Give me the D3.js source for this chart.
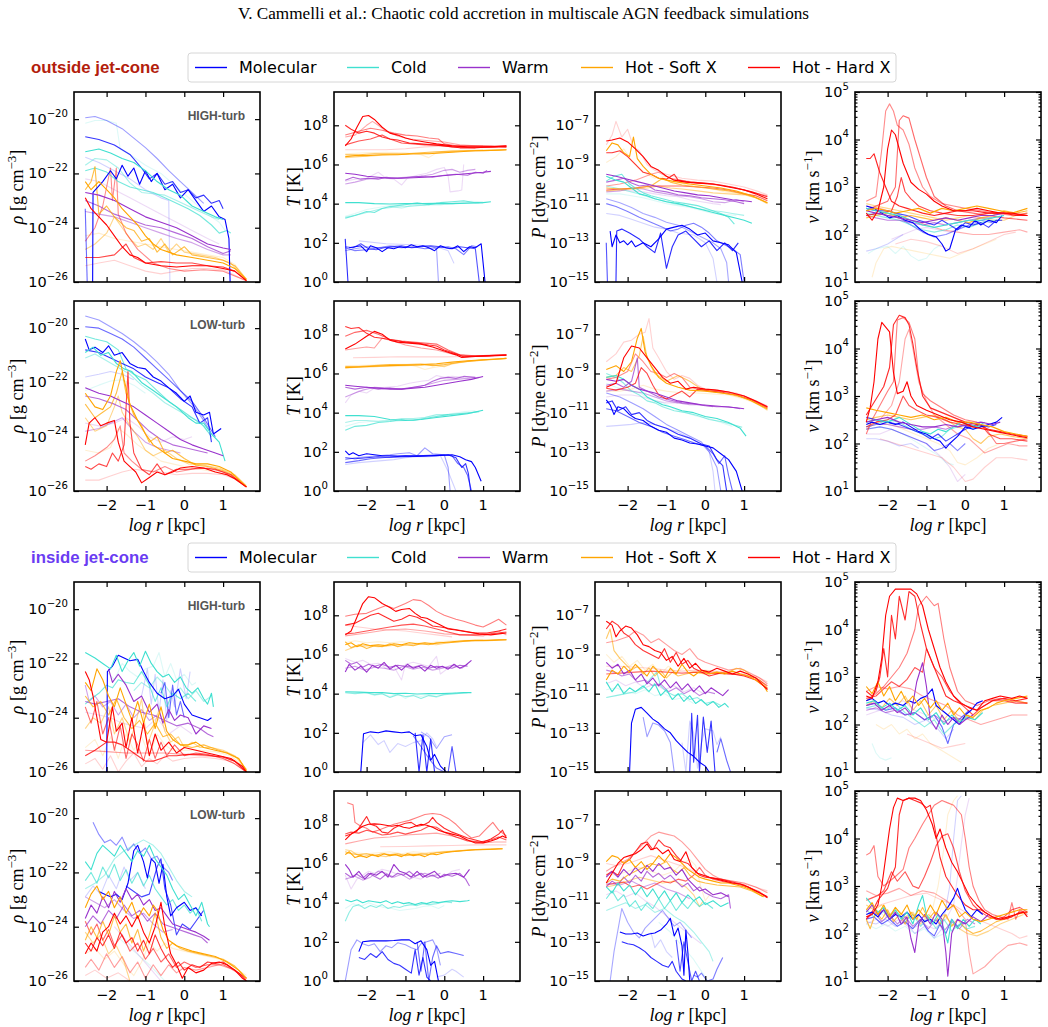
<!DOCTYPE html>
<html>
<head>
<meta charset="utf-8">
<script src="https://cdn.jsdelivr.net/npm/d3@7"></script>
<style>
  body { margin: 0; background: #fff; }
  svg { display: block; }
</style>
</head>
<body>
<div id="chart"></div>
<script>
// gas phases, legend order
const phaseKeys = ["mol", "cold", "warm", "soft", "hard"];
const phaseNames = ["Molecular", "Cold", "Warm", "Hot - Soft X", "Hot - Hard X"];
const turbLabels = ["HIGH-turb", "LOW-turb", "HIGH-turb", "LOW-turb"];
const regionLabels = ["outside jet-cone", "inside jet-cone"];
const xTicks = [-2, -1, 0, 1];

// profiles: each line is [log r, log value, log r, log value, ...], oldest snapshot first

const rhoOutHigh = {
  mol: [
    [-2.55,-21.4,-2.2,-21.6,-1.8,-21.9,-1.4,-22.2,-1.0,-22.6,-0.6,-22.9,-0.4,-23.0,-0.37,-26],
    [-2.55,-19.95,-2.3,-19.9,-2.0,-20.05,-1.6,-20.35,-1.3,-20.7,-1.0,-21.05,-0.7,-21.45,-0.4,-21.9,-0.1,-22.3,0.2,-22.7,0.5,-23.1],
    [-2.55,-23.3,-2.5,-26],
    [-2.55,-20.65,-2.2,-20.75,-1.8,-20.95,-1.4,-21.3,-1.1,-21.8,-0.9,-22.2,-0.7,-22.0,-0.5,-22.4,-0.3,-22.3,-0.1,-22.7,0.1,-22.6,0.3,-22.9,0.5,-22.8,0.7,-23.1,0.9,-23.0,1.0,-23.3],
    [-2.36,-26,-2.35,-22.7,-2.1,-22.3,-1.9,-21.9,-1.75,-22.2,-1.6,-21.7,-1.45,-22.1,-1.3,-21.8,-1.15,-22.4,-1.0,-21.9,-0.85,-22.3,-0.7,-22.0,-0.5,-22.6,-0.3,-22.4,-0.1,-22.9,0.1,-22.6,0.3,-23.0,0.5,-23.4,0.7,-23.2,0.9,-23.6,1.05,-23.7,1.15,-24.4,1.18,-26]
  ],
  cold: [
    [-2.55,-20.15,-2.3,-20.05,-2.0,-20.05,-1.75,-20.15,-1.65,-21.1,-1.4,-21.3,-1.0,-21.7,-0.6,-22.0,-0.2,-22.5,0.2,-23.0,0.6,-23.5,0.9,-23.8,1.05,-24.1],
    [-2.55,-21.7,-2.3,-21.45,-2.0,-21.5,-1.7,-21.8,-1.4,-22.35,-1.1,-22.7,-0.8,-22.75,-0.5,-22.8,-0.2,-23.0,0.1,-23.2,0.4,-23.4,0.7,-23.6,0.9,-23.7],
    [-2.55,-21.9,-2.3,-21.8,-2.0,-21.95,-1.7,-22.3,-1.4,-22.5,-1.1,-22.6,-0.8,-22.7,-0.5,-22.9,-0.2,-23.1,0.1,-23.3,0.4,-23.55,0.7,-23.9,0.9,-24.2,1.1,-24.1,1.2,-24.2],
    [-2.55,-21.2,-2.2,-21.1,-1.9,-21.25,-1.6,-21.45,-1.3,-21.6,-1.0,-21.9,-0.7,-22.3,-0.4,-22.6,-0.1,-22.8,0.2,-23.2,0.5,-23.4,0.8,-23.6,1.0,-23.7]
  ],
  warm: [
    [-2.55,-22.2,-2.2,-22.3,-1.8,-22.6,-1.4,-22.9,-1.0,-23.2,-0.6,-23.5,-0.2,-23.8,0.2,-24.1,0.6,-24.4,0.9,-24.6],
    [-2.55,-23.4,-2.2,-23.5,-1.8,-23.6,-1.4,-23.8,-1.0,-24.0,-0.6,-24.2,-0.2,-24.4,0.2,-24.55,0.6,-24.8,1.0,-25.0,1.2,-25.0],
    [-2.55,-23.0,-2.2,-23.2,-1.8,-23.5,-1.4,-23.7,-1.0,-23.9,-0.6,-24.0,-0.2,-24.2,0.2,-24.4,0.6,-24.7,1.0,-24.95,1.2,-24.85],
    [-2.55,-22.7,-2.2,-22.8,-1.8,-23.0,-1.4,-23.3,-1.0,-23.6,-0.6,-23.8,-0.2,-24.0,0.2,-24.3,0.6,-24.6,1.0,-24.75,1.2,-24.8]
  ],
  soft: [
    [-2.55,-24.3,-2.2,-24.2,-1.8,-24.4,-1.4,-24.5,-1.0,-24.6,-0.6,-24.7,-0.2,-24.8,0.2,-24.9,0.6,-25.0,1.0,-25.1,1.3,-25.35,1.6,-25.9],
    [-2.55,-24.8,-2.3,-24.6,-2.0,-24.2,-1.8,-23.6,-1.6,-24.0,-1.4,-24.4,-1.2,-24.7,-1.0,-24.6,-0.8,-24.8,-0.6,-24.4,-0.4,-24.9,-0.2,-24.6,0.0,-24.9,0.4,-25.0,0.8,-25.1,1.2,-25.3,1.6,-25.95],
    [-2.55,-22.6,-2.4,-22.3,-2.3,-21.75,-2.2,-23.5,-2.0,-23.2,-1.8,-23.6,-1.5,-24.0,-1.3,-24.1,-1.1,-24.5,-0.9,-24.4,-0.7,-24.9,-0.5,-24.6,-0.3,-25.0,0.0,-24.7,0.2,-25.0,0.6,-25.1,1.0,-25.2,1.3,-25.4,1.6,-25.9],
    [-2.55,-22.3,-2.4,-22.6,-2.2,-22.3,-2.0,-22.6,-1.8,-22.9,-1.6,-23.3,-1.4,-23.6,-1.2,-23.9,-1.0,-24.3,-0.8,-24.6,-0.6,-24.8,-0.4,-24.9,-0.2,-25.0,0.2,-25.1,0.6,-25.2,1.0,-25.3,1.3,-25.5,1.6,-25.9]
  ],
  hard: [
    [-2.55,-25.4,-2.2,-25.3,-1.8,-25.2,-1.4,-25.4,-1.0,-25.6,-0.6,-25.7,-0.2,-25.6,0.2,-25.5,0.6,-25.5,1.0,-25.55,1.6,-25.95],
    [-2.55,-24.5,-2.3,-24.0,-2.1,-23.2,-1.9,-21.8,-1.85,-23.0,-1.75,-21.8,-1.7,-23.5,-1.5,-24.2,-1.2,-24.8,-0.8,-25.3,-0.4,-25.5,0.0,-25.6,0.5,-25.55,1.0,-25.6,1.6,-25.95],
    [-2.55,-25.1,-2.2,-25.1,-1.8,-25.0,-1.5,-24.6,-1.3,-25.1,-1.0,-25.3,-0.6,-25.25,-0.2,-25.3,0.2,-25.3,0.6,-25.4,1.0,-25.45,1.3,-25.6,1.6,-25.95],
    [-2.55,-22.9,-2.4,-23.3,-2.2,-23.6,-2.0,-23.9,-1.8,-24.3,-1.6,-24.7,-1.4,-25.0,-1.2,-25.1,-1.0,-25.3,-0.6,-25.4,-0.2,-25.45,0.2,-25.4,0.6,-25.4,1.0,-25.5,1.3,-25.6,1.6,-25.95]
  ]
};

const tOutHigh = {
  mol: [
    [-2.2,2.1,-1.5,1.95,-0.8,1.9,-0.2,1.8,0.1,1.6,0.25,0.95],
    [-2.55,1.6,-2.3,1.7,-2.0,1.8,-1.7,1.75,-1.4,1.85,-1.1,1.8,-0.8,1.75,-0.5,1.85,-0.3,1.8,-0.2,1.7,-0.15,0.0],
    [-2.55,1.75,-2.3,1.6,-2.0,1.65,-1.7,1.75,-1.4,1.8,-1.1,1.75,-0.8,1.8,-0.5,1.7,-0.2,1.75,0.1,1.8,0.3,1.7,0.5,1.4,0.7,1.85,0.85,1.8],
    [-2.55,1.8,-2.35,1.75,-2.15,1.95,-1.95,1.7,-1.75,1.65,-1.55,1.75,-1.35,1.8,-1.1,1.85,-0.85,1.75,-0.6,1.8,-0.35,1.85,-0.1,1.8,0.15,1.7,0.4,1.8,0.6,1.75,0.8,1.7,0.9,0.0],
    [-2.55,2.2,-2.48,0.0],
    [-2.45,1.75,-2.3,1.8,-2.15,1.85,-2.0,1.55,-1.9,1.85,-1.75,1.75,-1.6,1.55,-1.45,1.75,-1.3,1.7,-1.15,1.8,-1.0,1.75,-0.85,1.9,-0.7,1.8,-0.55,1.85,-0.4,1.75,-0.25,1.6,-0.1,1.85,0.05,1.75,0.2,1.7,0.35,1.85,0.5,1.55,0.65,1.8,0.8,1.75,0.95,1.95,1.05,0.0]
  ],
  cold: [
    [-2.55,3.35,-2.3,3.5,-2.0,3.7,-1.7,3.8,-1.4,3.9,-1.1,3.75,-0.8,3.95,-0.5,3.9,-0.2,4.05,0.1,4.0,0.4,4.1,0.7,4.12,1.0,4.1],
    [-2.55,3.3,-2.2,3.45,-1.9,3.6,-1.6,3.75,-1.3,3.82,-1.0,3.85,-0.7,3.9,-0.4,3.95,-0.1,3.95,0.2,4.0,0.6,4.05,0.9,4.05],
    [-2.55,3.25,-2.3,3.4,-2.0,3.6,-1.8,3.55,-1.6,3.75,-1.4,3.85,-1.2,3.9,-1.0,3.95,-0.7,4.05,-0.4,3.95,-0.1,4.05,0.2,4.1,0.5,4.15,0.8,4.05,1.0,4.05],
    [-2.55,4.05,-2.2,4.05,-1.8,4.0,-1.4,3.98,-1.0,4.0,-0.6,4.0,-0.2,4.02,0.2,4.0,0.6,4.02,1.0,4.05,1.2,4.1]
  ],
  warm: [
    [-2.55,5.15,-2.3,5.25,-2.0,5.3,-1.7,5.6,-1.5,5.3,-1.3,5.25,-1.1,4.95,-0.95,5.3,-0.7,5.45,-0.45,5.55,-0.2,5.75,0.0,5.85,0.1,5.4,0.15,4.6,0.35,4.65,0.45,4.7,0.5,6.0],
    [-2.55,5.0,-2.3,5.1,-2.0,5.25,-1.7,5.3,-1.4,5.3,-1.0,5.35,-0.6,5.4,-0.3,5.5,0.0,5.7,0.2,5.75,0.4,5.6,0.6,5.7,0.8,5.75],
    [-2.55,5.2,-2.35,5.35,-2.15,5.25,-1.95,5.3,-1.7,5.25,-1.5,5.35,-1.2,5.3,-0.9,5.35,-0.6,5.4,-0.3,5.35,0.0,5.45,0.3,5.5,0.6,5.45,0.8,5.6,1.0,5.55,1.1,5.7],
    [-2.55,5.55,-2.3,5.5,-2.0,5.4,-1.7,5.35,-1.4,5.3,-1.1,5.3,-0.8,5.32,-0.5,5.35,-0.2,5.4,0.1,5.45,0.4,5.5,0.7,5.55,1.0,5.6,1.2,5.65]
  ],
  soft: [
    [-2.55,6.55,-2.0,6.6,-1.5,6.62,-1.0,6.6,-0.6,6.5,-0.4,6.35,-0.2,6.6,0.2,6.7,0.6,6.72,1.0,6.75],
    [-2.55,6.35,-2.2,6.4,-1.8,6.45,-1.4,6.5,-1.0,6.52,-0.6,6.55,-0.2,6.6,0.2,6.65,0.6,6.7,1.0,6.72,1.6,6.75],
    [-2.55,6.5,-2.2,6.5,-1.8,6.55,-1.4,6.55,-1.0,6.55,-0.6,6.6,-0.2,6.65,0.2,6.68,0.6,6.7,1.0,6.7,1.4,6.73,1.6,6.75],
    [-2.55,6.4,-2.3,6.45,-2.0,6.45,-1.6,6.5,-1.2,6.5,-0.8,6.55,-0.4,6.55,0.0,6.6,0.4,6.65,0.8,6.7,1.2,6.72,1.6,6.75]
  ],
  hard: [
    [-2.55,6.75,-2.0,6.75,-1.5,6.75,-1.0,6.8,-0.5,6.9,0.0,6.95,0.5,6.95,1.0,6.95],
    [-2.55,7.4,-2.3,7.5,-2.0,8.0,-1.85,8.2,-1.7,8.0,-1.5,7.7,-1.2,7.45,-0.9,7.3,-0.6,7.25,-0.3,7.2,0.0,7.15,0.4,7.0,0.8,6.95,1.3,6.9,1.6,6.95],
    [-2.55,7.5,-2.2,7.7,-1.9,7.85,-1.6,7.75,-1.3,7.6,-1.0,7.5,-0.7,7.45,-0.4,7.35,-0.15,7.3,0.0,7.05,0.3,6.95,0.8,6.95,1.2,6.95,1.6,6.9],
    [-2.55,7.0,-2.2,7.2,-1.9,7.3,-1.6,7.5,-1.4,7.3,-1.1,7.1,-0.8,7.05,-0.5,7.0,-0.2,7.0,0.2,6.9,0.8,6.85,1.2,6.9,1.6,6.95],
    [-2.55,8.0,-2.4,7.8,-2.2,7.6,-2.0,7.7,-1.8,7.6,-1.6,7.4,-1.4,7.3,-1.2,7.25,-0.9,7.1,-0.6,7.05,-0.3,7.0,0.0,6.95,0.4,6.85,0.8,6.85,1.2,6.9,1.6,6.95],
    [-2.55,6.95,-2.4,7.3,-2.25,7.9,-2.1,8.45,-1.95,8.5,-1.8,8.3,-1.6,7.9,-1.4,7.6,-1.2,7.5,-1.0,7.35,-0.8,7.25,-0.5,7.15,-0.2,7.05,0.2,6.95,0.6,6.9,1.0,6.9,1.3,6.9,1.6,6.9]
  ]
};

const pOutHigh = {
  mol: [
    [-2.55,-11.5,-2.2,-11.6,-1.9,-11.8,-1.6,-12.0,-1.3,-12.2,-1.0,-12.3,-0.7,-12.5,-0.3,-12.6,0.0,-13.0,0.2,-13.8,0.3,-15.0],
    [-2.55,-10.75,-2.2,-10.95,-1.9,-11.2,-1.6,-11.5,-1.3,-11.7,-1.0,-11.95,-0.7,-12.1,-0.4,-12.4,-0.1,-12.7,0.2,-13.0,0.4,-13.3,0.55,-14.0,0.6,-15.0],
    [-2.55,-11.0,-2.3,-11.15,-2.0,-11.4,-1.7,-11.7,-1.4,-11.95,-1.1,-12.2,-0.9,-12.4,-0.7,-12.3,-0.5,-12.1,-0.3,-12.0,-0.1,-12.2,0.1,-12.5,0.3,-12.9,0.5,-13.1,0.7,-13.3,0.9,-13.6,1.0,-15.0],
    [-2.55,-13.0,-2.52,-15.0],
    [-2.3,-15.0,-2.28,-12.4,-2.15,-12.3,-1.95,-12.5,-1.7,-12.8,-1.5,-13.2,-1.3,-13.5,-1.15,-12.5,-1.0,-14.3,-0.85,-13.2,-0.7,-12.6,-0.5,-12.4,-0.3,-12.8,-0.1,-13.2,0.1,-12.9,0.3,-13.4,0.5,-13.0,0.7,-13.4,0.85,-13.0],
    [-2.45,-12.4,-2.4,-13.2,-2.3,-12.6,-2.2,-13.0,-2.1,-12.9,-2.0,-13.1,-1.9,-12.9,-1.8,-13.2,-1.6,-13.0,-1.4,-13.2,-1.2,-12.8,-1.0,-12.3,-0.8,-12.2,-0.6,-12.1,-0.4,-12.3,-0.2,-12.6,0.0,-12.5,0.2,-12.9,0.4,-13.0,0.6,-13.1,0.8,-13.5,0.95,-15.0]
  ],
  cold: [
    [-2.55,-10.5,-2.2,-10.5,-1.9,-10.6,-1.6,-10.7,-1.3,-10.85,-1.0,-11.0,-0.7,-11.1,-0.4,-11.2,-0.1,-11.35,0.2,-11.5,0.5,-11.55,0.8,-11.6],
    [-2.55,-10.1,-2.3,-10.2,-2.0,-10.35,-1.7,-10.5,-1.4,-10.7,-1.1,-10.85,-0.8,-11.0,-0.5,-11.1,-0.2,-11.25,0.1,-11.35,0.4,-11.4,0.7,-11.5,1.0,-11.6],
    [-2.55,-9.85,-2.35,-9.6,-2.15,-9.5,-1.95,-10.0,-1.8,-10.2,-1.6,-10.45,-1.4,-10.6,-1.1,-10.75,-0.8,-10.9,-0.5,-11.0,-0.2,-11.1,0.1,-11.3,0.4,-11.5,0.6,-11.7,0.75,-12.05],
    [-2.55,-9.6,-2.3,-9.8,-2.1,-9.9,-1.9,-10.2,-1.7,-10.5,-1.5,-10.6,-1.3,-10.75,-1.0,-10.9,-0.7,-11.0,-0.4,-11.15,-0.1,-11.3,0.2,-11.45,0.5,-11.6,0.8,-11.75,1.0,-11.85,1.2,-12.0]
  ],
  warm: [
    [-2.55,-10.2,-2.2,-10.3,-1.9,-10.35,-1.6,-10.4,-1.3,-10.5,-1.0,-10.6,-0.7,-10.65,-0.4,-10.8,-0.1,-10.9,0.2,-11.0,0.4,-11.05],
    [-2.55,-10.4,-2.2,-10.35,-1.9,-10.2,-1.6,-10.25,-1.3,-10.4,-1.0,-10.5,-0.7,-10.6,-0.4,-10.65,-0.1,-10.75,0.2,-10.9,0.5,-10.95,0.8,-10.8,1.0,-10.9],
    [-2.55,-9.9,-2.3,-9.8,-2.1,-9.7,-1.9,-9.95,-1.7,-10.1,-1.5,-10.05,-1.3,-10.3,-1.0,-10.4,-0.7,-10.55,-0.4,-10.6,-0.1,-10.7,0.2,-10.75,0.5,-10.8,0.8,-10.9,1.0,-11.0],
    [-2.55,-9.5,-2.3,-9.6,-2.0,-9.75,-1.7,-9.9,-1.4,-10.05,-1.1,-10.2,-0.8,-10.35,-0.5,-10.45,-0.2,-10.55,0.1,-10.6,0.4,-10.7,0.7,-10.8,1.0,-10.85,1.2,-10.9]
  ],
  soft: [
    [-2.55,-8.9,-2.3,-8.6,-2.1,-8.2,-1.9,-8.8,-1.7,-9.2,-1.5,-9.5,-1.3,-9.7,-1.0,-9.6,-0.7,-9.9,-0.3,-10.1,0.1,-10.2,0.5,-10.4,0.9,-10.5,1.3,-10.6,1.6,-10.8],
    [-2.55,-10.35,-2.2,-10.3,-1.8,-10.25,-1.5,-10.2,-1.2,-10.1,-0.9,-10.2,-0.6,-10.25,-0.2,-10.35,0.2,-10.45,0.6,-10.5,1.0,-10.55,1.3,-10.7,1.6,-11.0],
    [-2.55,-10.2,-2.2,-10.25,-1.8,-10.2,-1.4,-10.1,-1.1,-9.7,-0.9,-9.9,-0.6,-10.05,-0.2,-10.15,0.2,-10.25,0.6,-10.35,1.0,-10.5,1.3,-10.7,1.6,-10.95],
    [-2.55,-8.3,-2.4,-7.9,-2.25,-8.0,-2.1,-8.4,-1.95,-8.6,-1.85,-7.6,-1.75,-8.7,-1.6,-9.1,-1.4,-9.5,-1.2,-9.7,-1.0,-9.8,-0.7,-9.9,-0.4,-10.0,0.0,-10.1,0.4,-10.2,0.8,-10.35,1.2,-10.6,1.6,-10.95]
  ],
  hard: [
    [-2.55,-8.0,-2.4,-7.5,-2.3,-6.8,-2.15,-7.6,-2.0,-7.2,-1.85,-8.1,-1.7,-8.3,-1.5,-9.0,-1.3,-9.3,-1.0,-9.5,-0.6,-9.7,-0.2,-9.8,0.2,-9.85,0.6,-10.0,1.0,-10.15,1.4,-10.4,1.6,-10.55],
    [-2.55,-10.1,-2.2,-10.0,-1.8,-9.8,-1.4,-9.5,-1.2,-9.4,-0.9,-9.7,-0.5,-9.85,-0.1,-9.95,0.3,-10.05,0.7,-10.15,1.1,-10.35,1.6,-10.6],
    [-2.55,-10.3,-2.2,-10.25,-1.8,-10.2,-1.4,-10.1,-1.0,-10.1,-0.6,-10.1,-0.2,-10.15,0.2,-10.2,0.6,-10.3,1.0,-10.5,1.3,-10.6,1.6,-10.85],
    [-2.55,-8.4,-2.4,-8.4,-2.2,-8.3,-2.0,-8.6,-1.8,-9.0,-1.6,-9.4,-1.4,-9.5,-1.2,-9.7,-1.0,-9.75,-0.8,-9.5,-0.7,-9.8,-0.4,-9.9,0.0,-9.95,0.4,-10.05,0.8,-10.2,1.2,-10.4,1.6,-10.65],
    [-2.55,-7.8,-2.4,-7.75,-2.2,-7.65,-2.0,-7.85,-1.8,-8.2,-1.6,-8.6,-1.4,-9.1,-1.2,-9.3,-1.0,-9.6,-0.8,-9.8,-0.5,-9.9,-0.2,-9.95,0.2,-10.0,0.6,-10.15,1.0,-10.3,1.3,-10.5,1.6,-10.75]
  ]
};

const vOutHigh = {
  mol: [
    [-2.55,1.65,-2.3,1.7,-2.0,1.8,-1.8,1.9,-1.6,2.0],
    [-2.55,2.4,-2.3,2.45,-2.0,2.4,-1.7,2.35,-1.4,2.2,-1.1,2.05,-0.8,1.95,-0.5,2.0,-0.2,2.1,0.1,2.2,0.4,2.3,0.7,2.25],
    [-2.55,2.55,-2.3,2.5,-2.0,2.5,-1.8,2.45,-1.5,2.4,-1.2,2.3,-1.0,2.25,-0.8,2.2,-0.6,2.3,-0.4,2.2,-0.2,2.1,0.0,2.25,0.2,2.2,0.4,2.25,0.6,2.15,0.8,2.3,0.95,2.3],
    [-2.55,2.6,-2.35,2.55,-2.15,2.45,-1.95,2.35,-1.75,2.4,-1.55,2.3,-1.35,2.25,-1.15,2.1,-0.95,2.0,-0.75,1.95,-0.6,1.8,-0.5,1.65,-0.4,1.7,-0.25,2.1,-0.1,2.2,0.1,2.15,0.25,2.3,0.4,2.2,0.6,2.3,0.8,2.25,0.95,2.4]
  ],
  cold: [
    [-2.5,1.6,-2.3,1.7,-2.0,1.75,-1.8,1.6,-1.6,1.75,-1.4,1.55,-1.2,1.45,-1.0,1.5,-0.8,1.7,-0.6,1.8],
    [-2.55,2.45,-2.3,2.4,-2.0,2.35,-1.7,2.3,-1.4,2.2,-1.1,2.1,-0.8,2.05,-0.5,2.1,-0.2,2.2,0.1,2.15,0.4,2.25,0.7,2.3,0.9,2.3],
    [-2.55,2.55,-2.3,2.5,-2.0,2.45,-1.7,2.4,-1.4,2.3,-1.1,2.2,-0.8,2.15,-0.5,2.2,-0.2,2.25,0.1,2.3,0.4,2.3,0.7,2.35,1.0,2.4]
  ],
  warm: [
    [-1.9,1.9,-1.6,2.0,-1.3,2.1,-1.0,2.15,-0.7,2.1,-0.4,2.05,-0.1,2.15,0.2,2.2,0.5,2.25],
    [-2.55,2.4,-2.3,2.35,-2.0,2.3,-1.7,2.3,-1.4,2.25,-1.1,2.2,-0.8,2.25,-0.5,2.2,-0.2,2.25,0.1,2.3,0.4,2.35,0.7,2.35],
    [-2.55,2.5,-2.3,2.45,-2.0,2.4,-1.7,2.35,-1.4,2.3,-1.1,2.25,-0.8,2.3,-0.5,2.35,-0.2,2.3,0.1,2.35,0.4,2.4,0.7,2.4,1.0,2.45]
  ],
  soft: [
    [-2.4,1.1,-2.3,1.4,-2.1,1.7,-1.9,1.75,-1.6,1.7,-1.3,1.65,-1.0,1.6,-0.7,1.55,-0.4,1.5,-0.1,1.6,0.2,1.7,0.5,1.8,0.8,1.9],
    [-2.55,2.65,-2.3,2.6,-2.0,2.55,-1.7,2.5,-1.4,2.45,-1.1,2.4,-0.8,2.35,-0.5,2.3,-0.2,2.35,0.1,2.4,0.4,2.35,0.7,2.3,1.0,2.3,1.3,2.4,1.6,2.45],
    [-2.55,2.35,-2.3,2.4,-2.0,2.45,-1.7,2.35,-1.4,2.4,-1.1,2.35,-0.8,2.3,-0.5,2.35,-0.2,2.3,0.1,2.25,0.4,2.35,0.7,2.4,1.0,2.5,1.3,2.45,1.6,2.5],
    [-2.55,2.5,-2.3,2.55,-2.0,2.5,-1.8,2.45,-1.5,2.5,-1.2,2.55,-0.9,2.45,-0.6,2.55,-0.3,2.5,0.0,2.55,0.3,2.6,0.6,2.55,0.9,2.5,1.2,2.45,1.6,2.55]
  ],
  hard: [
    [-1.8,1.8,-1.4,1.9,-1.0,1.85,-0.6,1.75,-0.2,1.6,0.2,1.7,0.6,1.85,1.0,2.0,1.3,2.05],
    [-2.55,2.6,-2.2,2.55,-1.8,2.45,-1.4,2.3,-1.0,2.2,-0.6,2.1,-0.2,2.05,0.2,2.0,0.6,2.0,1.0,2.05,1.4,2.1,1.6,2.05],
    [-2.55,2.7,-2.3,2.8,-2.15,3.8,-2.05,4.6,-1.95,4.75,-1.85,4.6,-1.75,4.3,-1.6,4.2,-1.45,3.9,-1.3,3.4,-1.1,3.0,-0.9,2.8,-0.6,2.65,-0.3,2.6,0.0,2.55,0.4,2.5,0.8,2.45,1.2,2.4,1.6,2.45],
    [-2.55,2.5,-2.3,2.6,-2.0,2.7,-1.8,3.0,-1.7,4.4,-1.6,4.5,-1.45,4.45,-1.3,4.0,-1.15,3.6,-1.0,3.2,-0.8,2.8,-0.5,2.6,-0.2,2.5,0.2,2.45,0.6,2.4,1.0,2.35,1.6,2.3],
    [-2.55,2.4,-2.2,2.45,-1.9,2.5,-1.75,2.8,-1.65,3.2,-1.55,2.9,-1.4,2.75,-1.2,2.6,-0.9,2.5,-0.6,2.45,-0.2,2.4,0.2,2.4,0.6,2.45,1.0,2.45,1.6,2.4],
    [-2.55,3.6,-2.45,3.6,-2.35,3.7,-2.2,3.3,-2.05,3.0,-1.9,2.7,-1.7,2.6,-1.5,2.55,-1.3,2.5,-1.1,2.45,-0.8,2.4,-0.5,2.45,-0.2,2.5,0.2,2.5,0.6,2.45,1.0,2.45,1.3,2.4,1.6,2.4],
    [-2.55,2.45,-2.4,2.3,-2.25,2.5,-2.1,3.0,-2.0,3.8,-1.9,4.2,-1.8,4.1,-1.6,3.5,-1.4,3.1,-1.2,2.95,-1.0,2.85,-0.8,2.7,-0.6,2.6,-0.3,2.5,0.0,2.5,0.3,2.55,0.6,2.5,0.9,2.45,1.2,2.45,1.6,2.4]
  ]
};

const rhoOutLow = {
  mol: [
    [-2.55,-21.8,-2.2,-21.7,-1.9,-21.6,-1.6,-21.7,-1.3,-21.9],
    [-2.55,-19.55,-2.2,-19.7,-1.9,-19.95,-1.6,-20.2,-1.3,-20.5,-1.0,-20.85,-0.7,-21.25,-0.4,-21.7,-0.1,-22.3,0.2,-22.8,0.5,-23.4,0.7,-23.9],
    [-2.55,-19.95,-2.2,-20.0,-1.9,-20.2,-1.6,-20.4,-1.3,-20.7,-1.0,-21.1,-0.7,-21.5,-0.4,-21.9,-0.1,-22.3,0.2,-22.7,0.5,-23.3,0.8,-24.0],
    [-2.55,-20.8,-2.2,-20.9,-1.9,-21.1,-1.6,-21.3,-1.3,-21.5,-1.0,-21.8,-0.7,-22.0,-0.4,-22.2,-0.1,-22.6,0.2,-22.9,0.4,-23.5,0.6,-23.3,0.7,-24.2],
    [-2.55,-20.4,-2.45,-20.8,-2.3,-20.7,-2.1,-20.9,-1.95,-20.65,-1.8,-21.0,-1.6,-20.9,-1.4,-21.3,-1.2,-21.45,-1.0,-21.5,-0.8,-21.8,-0.6,-21.95,-0.4,-22.2,-0.2,-22.4,0.0,-22.7,0.15,-22.5,0.3,-23.1,0.5,-23.2,0.65,-23.1,0.75,-23.9,0.95,-23.7]
  ],
  cold: [
    [-2.55,-22.3,-2.2,-22.1,-1.9,-21.95,-1.6,-21.9,-1.3,-22.1,-1.0,-22.4],
    [-2.55,-21.1,-2.3,-20.95,-2.0,-21.2,-1.7,-21.45,-1.4,-21.7,-1.1,-22.1,-0.8,-22.4,-0.5,-22.75,-0.2,-23.0,0.1,-23.25,0.4,-23.45,0.6,-23.8],
    [-2.55,-20.3,-2.3,-20.4,-2.0,-20.5,-1.7,-20.8,-1.5,-21.5,-1.3,-21.7,-1.0,-21.9,-0.7,-22.3,-0.4,-22.7,-0.1,-23.0,0.2,-23.3,0.5,-23.6,0.7,-24.0],
    [-2.55,-20.9,-2.35,-20.7,-2.15,-21.0,-1.95,-20.9,-1.75,-21.3,-1.55,-21.5,-1.35,-21.6,-1.1,-22.0,-0.8,-22.3,-0.5,-22.6,-0.2,-22.9,0.1,-23.3,0.3,-23.5,0.5,-23.5,0.7,-23.9,0.9,-24.2,1.05,-24.9]
  ],
  warm: [
    [-2.55,-23.5,-2.2,-23.6,-1.8,-23.5,-1.5,-23.3,-1.2,-23.6,-0.9,-24.0,-0.6,-24.2,-0.3,-24.0,0.0,-24.1,0.2,-24.0],
    [-2.55,-23.8,-2.2,-23.7,-1.9,-23.5,-1.6,-23.3,-1.3,-23.8,-1.0,-24.2,-0.7,-24.4,-0.4,-24.5,-0.1,-24.6],
    [-2.55,-22.5,-2.2,-22.6,-1.8,-22.8,-1.5,-23.0,-1.2,-23.4,-0.9,-23.8,-0.6,-24.1,-0.3,-24.3,0.0,-24.4,0.3,-24.5,0.6,-24.6],
    [-2.55,-22.2,-2.2,-22.4,-1.9,-22.5,-1.6,-22.7,-1.3,-22.9,-1.0,-23.2,-0.7,-23.5,-0.4,-23.8,-0.1,-24.1,0.2,-24.3,0.5,-24.45,0.8,-24.6,1.0,-24.7]
  ],
  soft: [
    [-2.55,-24.5,-2.2,-24.6,-1.9,-24.4,-1.7,-23.7,-1.5,-23.9,-1.2,-24.3,-0.9,-24.6,-0.6,-24.9,-0.3,-25.0,0.0,-25.1,0.4,-25.2,0.8,-25.3,1.2,-25.45,1.6,-25.85],
    [-2.55,-23.3,-2.3,-23.8,-2.0,-23.6,-1.8,-22.9,-1.7,-22.5,-1.6,-23.1,-1.4,-23.6,-1.2,-24.0,-1.0,-24.5,-0.8,-24.7,-0.5,-24.5,-0.2,-24.8,0.1,-25.0,0.5,-25.05,0.9,-25.15,1.3,-25.4,1.6,-25.8],
    [-2.55,-22.8,-2.3,-23.3,-2.1,-23.1,-1.9,-22.9,-1.75,-22.4,-1.6,-21.6,-1.5,-22.4,-1.3,-23.2,-1.1,-23.6,-0.9,-24.2,-0.7,-24.0,-0.5,-24.6,-0.3,-24.5,0.0,-24.8,0.3,-25.05,0.6,-25.1,1.0,-25.25,1.3,-25.45,1.6,-25.85],
    [-2.55,-22.4,-2.3,-22.9,-2.1,-23.0,-1.9,-22.5,-1.75,-21.6,-1.65,-21.2,-1.55,-21.9,-1.4,-22.8,-1.2,-23.4,-1.0,-23.9,-0.8,-24.3,-0.6,-24.5,-0.3,-24.8,0.0,-24.9,0.3,-25.0,0.6,-25.0,0.9,-25.1,1.2,-25.3,1.6,-25.85]
  ],
  hard: [
    [-2.55,-25.6,-2.2,-25.6,-1.9,-25.45,-1.6,-25.3,-1.3,-25.2,-1.0,-25.25,-0.6,-25.3,-0.2,-25.4,0.2,-25.35,0.6,-25.35,1.0,-25.4,1.3,-25.55,1.6,-25.85],
    [-2.55,-24.9,-2.3,-24.7,-2.0,-24.4,-1.8,-24.1,-1.65,-23.6,-1.55,-24.6,-1.35,-24.9,-1.1,-25.2,-0.8,-25.3,-0.5,-25.1,-0.2,-25.3,0.2,-25.2,0.6,-25.15,1.0,-25.3,1.4,-25.6,1.6,-25.85],
    [-2.55,-25.1,-2.4,-25.2,-2.2,-25.0,-2.0,-25.1,-1.85,-24.6,-1.7,-24.9,-1.55,-24.3,-1.45,-21.6,-1.4,-23.5,-1.3,-24.6,-1.1,-25.2,-0.9,-25.4,-0.7,-25.0,-0.5,-25.4,-0.2,-25.2,0.1,-25.2,0.4,-25.15,0.8,-25.2,1.2,-25.4,1.6,-25.85],
    [-2.55,-24.3,-2.45,-23.5,-2.3,-23.3,-2.15,-23.6,-2.0,-23.5,-1.8,-23.4,-1.7,-24.2,-1.55,-24.9,-1.4,-25.1,-1.25,-25.3,-1.1,-25.7,-0.9,-25.5,-0.7,-25.3,-0.5,-25.4,-0.3,-25.3,-0.1,-25.15,0.2,-25.1,0.5,-25.15,0.8,-25.3,1.1,-25.4,1.3,-25.55,1.6,-25.85]
  ]
};

const tOutLow = {
  mol: [
    [-2.55,1.35,-2.2,1.45,-1.9,1.5,-1.6,1.55,-1.3,1.6,-1.0,1.7,-0.7,1.75,-0.4,1.75,-0.1,1.8,0.0,1.4,0.1,1.0,0.2,0.5,0.3,0.0],
    [-2.55,1.6,-2.3,1.7,-2.0,1.75,-1.7,1.8,-1.4,1.85,-1.2,1.9,-0.9,1.95,-0.7,1.8,-0.5,2.2,-0.3,1.9,0.0,1.85,0.1,1.2,0.15,0.0],
    [-2.55,1.45,-2.2,1.55,-1.9,1.65,-1.6,1.7,-1.3,1.75,-1.0,1.78,-0.7,1.8,-0.4,1.82,-0.1,1.85,0.2,1.8,0.35,1.4,0.5,1.2,0.6,0.8,0.7,0.0],
    [-2.55,1.7,-2.3,1.65,-2.0,1.7,-1.7,1.75,-1.4,1.72,-1.0,1.75,-0.6,1.78,-0.2,1.8,0.1,1.85,0.3,1.7,0.45,1.2,0.55,1.4,0.62,0.9,0.68,0.0],
    [-2.55,2.05,-2.45,1.85,-2.35,1.95,-2.2,1.8,-2.0,1.9,-1.8,1.85,-1.6,1.8,-1.4,1.8,-1.2,1.78,-1.0,1.8,-0.7,1.78,-0.4,1.8,-0.1,1.82,0.2,1.85,0.4,1.75,0.55,1.6,0.7,1.5,0.8,1.2,0.95,0.5]
  ],
  cold: [
    [-2.55,3.3,-2.2,3.5,-1.9,3.55,-1.6,3.6,-1.3,3.55,-1.0,3.6,-0.7,3.65,-0.4,3.8,-0.1,3.85,0.2,3.95,0.5,4.05,0.8,4.1],
    [-2.55,3.5,-2.3,3.6,-2.0,3.6,-1.7,3.55,-1.4,3.6,-1.1,3.7,-0.8,3.7,-0.5,3.75,-0.2,3.9,0.1,3.9],
    [-2.55,3.1,-2.3,3.3,-2.0,3.35,-1.7,3.5,-1.4,3.55,-1.1,3.65,-0.8,3.6,-0.5,3.7,-0.2,3.8,0.1,3.9,0.4,3.95,0.7,4.0,0.9,4.05],
    [-2.55,3.85,-2.2,3.85,-1.8,3.8,-1.4,3.65,-1.0,3.6,-0.6,3.65,-0.2,3.75,0.2,3.85,0.6,3.95,1.0,4.12]
  ],
  warm: [
    [-2.55,4.5,-2.4,4.9,-2.2,5.1,-2.0,5.0,-1.8,5.25,-1.5,5.3,-1.2,5.35,-0.9,5.5,-0.6,5.6,-0.4,5.65,-0.2,5.9,0.0,5.8,0.2,5.85,0.5,5.8],
    [-2.55,4.8,-2.3,5.0,-2.1,5.15,-1.8,5.3,-1.5,5.25,-1.2,5.2,-0.9,5.25,-0.6,5.35,-0.3,5.5,0.0,5.65,0.3,5.7,0.6,5.75,0.9,5.8],
    [-2.55,5.3,-2.3,5.2,-2.0,5.3,-1.7,5.2,-1.4,5.25,-1.1,5.2,-0.8,5.3,-0.5,5.4,-0.3,5.6,-0.1,5.75,0.1,5.8,0.3,5.75,0.5,5.85,0.8,5.8],
    [-2.55,5.4,-2.3,5.35,-2.0,5.3,-1.7,5.25,-1.4,5.2,-1.1,5.2,-0.8,5.25,-0.5,5.3,-0.2,5.4,0.1,5.5,0.4,5.6,0.7,5.7,1.0,5.85]
  ],
  soft: [
    [-2.55,6.4,-2.0,6.42,-1.5,6.45,-1.0,6.47,-0.7,6.35,-0.5,6.2,-0.3,6.3,0.0,6.4,0.4,6.55,0.8,6.65,1.2,6.72],
    [-2.55,6.28,-2.2,6.32,-1.8,6.35,-1.4,6.38,-1.0,6.4,-0.6,6.42,-0.3,6.45,0.0,6.35,0.2,6.5,0.6,6.62,1.0,6.7,1.6,6.77],
    [-2.55,6.35,-2.2,6.35,-1.8,6.4,-1.4,6.45,-1.0,6.45,-0.6,6.48,-0.3,6.4,0.0,6.45,0.3,6.55,0.6,6.62,1.0,6.68,1.6,6.77],
    [-2.55,6.3,-2.2,6.33,-1.8,6.37,-1.4,6.4,-1.0,6.42,-0.6,6.45,-0.2,6.5,0.2,6.58,0.6,6.65,1.0,6.7,1.3,6.73,1.6,6.77]
  ],
  hard: [
    [-2.35,6.8,-1.8,6.82,-1.2,6.85,-0.6,6.85,0.0,6.85,0.6,6.87,1.2,6.9],
    [-2.55,7.2,-2.2,7.3,-2.0,7.35,-1.8,7.3,-1.6,7.8,-1.3,7.65,-1.0,7.45,-0.6,7.3,-0.2,7.2,0.2,7.0,0.6,6.9,1.0,6.9,1.6,6.95],
    [-2.55,7.9,-2.3,8.1,-2.0,8.2,-1.7,8.0,-1.4,7.75,-1.1,7.65,-0.8,7.6,-0.5,7.55,-0.2,7.5,0.1,7.2,0.4,6.95,0.8,6.9,1.6,6.95],
    [-2.55,8.4,-2.4,8.3,-2.2,8.35,-2.0,8.05,-1.8,7.85,-1.6,7.8,-1.3,7.7,-1.0,7.6,-0.7,7.55,-0.4,7.45,-0.2,7.4,0.0,7.2,0.3,7.0,0.5,6.85,1.0,6.9,1.6,6.95],
    [-2.55,7.25,-2.3,7.5,-2.0,7.9,-1.8,8.15,-1.6,8.0,-1.4,7.7,-1.2,7.6,-0.9,7.55,-0.6,7.5,-0.3,7.35,0.0,7.15,0.3,6.95,0.45,6.82,0.8,6.87,1.2,6.9,1.6,6.93]
  ]
};

const pOutLow = {
  mol: [
    [-2.55,-11.7,-2.2,-11.65,-1.9,-11.6,-1.6,-11.5,-1.3,-11.6,-1.0,-11.8,-0.7,-12.0,-0.4,-12.3,-0.1,-12.6,0.1,-13.0,0.2,-14.0,0.25,-15.0],
    [-2.55,-10.0,-2.2,-10.2,-1.9,-10.5,-1.6,-10.8,-1.3,-11.2,-1.0,-11.6,-0.7,-11.9,-0.4,-12.2,-0.1,-12.5,0.1,-13.0,0.3,-13.8,0.4,-15.0],
    [-2.55,-10.8,-2.3,-10.9,-2.0,-11.2,-1.7,-11.5,-1.4,-11.7,-1.1,-12.0,-0.8,-12.2,-0.5,-12.4,-0.2,-12.6,0.0,-12.7,0.2,-13.1,0.35,-13.6,0.5,-13.2,0.6,-14.2,0.7,-15.0],
    [-2.55,-10.5,-2.4,-10.4,-2.25,-10.9,-2.05,-10.7,-1.9,-11.1,-1.7,-11.0,-1.5,-11.4,-1.3,-11.6,-1.0,-11.8,-0.7,-12.1,-0.4,-12.3,-0.1,-12.6,0.1,-12.7,0.3,-13.4,0.45,-13.7,0.55,-15.0],
    [-2.55,-10.35,-2.45,-10.6,-2.35,-11.1,-2.25,-10.7,-2.1,-10.8,-1.95,-11.1,-1.8,-11.3,-1.6,-11.4,-1.4,-11.7,-1.2,-11.9,-1.0,-12.0,-0.8,-12.3,-0.6,-12.4,-0.4,-12.55,-0.2,-12.6,0.0,-12.7,0.2,-12.8,0.4,-13.1,0.6,-13.4,0.8,-14.0,0.95,-15.0]
  ],
  cold: [
    [-2.55,-9.5,-2.3,-9.7,-2.0,-9.85,-1.7,-10.0,-1.4,-10.3,-1.1,-10.5,-0.8,-10.8,-0.5,-11.0,-0.2,-11.2,0.1,-11.3,0.4,-11.5,0.7,-11.7],
    [-2.55,-9.0,-2.3,-9.2,-2.1,-9.5,-1.9,-9.9,-1.7,-10.1,-1.5,-10.4,-1.3,-10.5,-1.1,-10.7,-0.8,-10.9,-0.5,-11.0,-0.2,-11.15,0.1,-11.35,0.4,-11.45,0.7,-11.6,0.95,-11.75],
    [-2.55,-9.2,-2.3,-9.1,-2.1,-9.3,-1.9,-9.6,-1.7,-9.8,-1.5,-10.2,-1.3,-10.4,-1.1,-10.6,-0.9,-10.7,-0.6,-10.9,-0.3,-11.0,0.0,-11.2,0.3,-11.3,0.6,-11.5,0.9,-11.8,1.05,-12.2]
  ],
  warm: [
    [-2.55,-10.2,-2.2,-10.1,-1.9,-10.1,-1.6,-10.2,-1.3,-10.4,-1.0,-10.5,-0.7,-10.5],
    [-2.55,-9.9,-2.2,-9.8,-1.9,-9.9,-1.6,-10.0,-1.3,-10.2,-1.0,-10.4,-0.7,-10.5,-0.4,-10.6,-0.1,-10.6,0.2,-10.7],
    [-2.55,-9.6,-2.3,-9.5,-2.1,-9.7,-1.9,-9.4,-1.75,-8.2,-1.7,-9.7,-1.5,-9.9,-1.2,-10.2,-0.9,-10.35,-0.6,-10.5,-0.3,-10.55,0.0,-10.65,0.3,-10.7,0.6,-10.7,0.9,-10.8],
    [-2.55,-9.3,-2.3,-9.4,-2.1,-9.3,-1.9,-9.6,-1.7,-9.8,-1.5,-9.9,-1.3,-10.0,-1.0,-10.2,-0.7,-10.4,-0.4,-10.5,-0.1,-10.6,0.2,-10.65,0.5,-10.7,0.8,-10.75,1.0,-10.8]
  ],
  soft: [
    [-2.55,-9.9,-2.2,-9.9,-1.9,-9.8,-1.6,-9.6,-1.3,-9.8,-1.0,-9.9,-0.6,-10.0,-0.2,-10.0,0.2,-10.05,0.6,-10.1,1.0,-10.3,1.4,-10.6,1.6,-10.9],
    [-2.55,-9.2,-2.3,-9.1,-2.1,-8.7,-1.9,-8.9,-1.7,-8.1,-1.6,-7.1,-1.5,-8.2,-1.3,-9.0,-1.0,-9.4,-0.7,-9.1,-0.4,-9.4,-0.1,-9.8,0.3,-9.95,0.7,-10.1,1.1,-10.3,1.6,-10.85],
    [-2.55,-8.8,-2.3,-8.6,-2.1,-8.9,-1.9,-8.4,-1.75,-7.2,-1.65,-6.7,-1.55,-7.9,-1.4,-8.6,-1.2,-9.2,-1.0,-9.5,-0.7,-9.7,-0.4,-9.85,0.0,-9.9,0.4,-10.0,0.8,-10.1,1.2,-10.4,1.6,-10.8]
  ],
  hard: [
    [-2.55,-8.4,-2.3,-8.0,-2.1,-7.4,-1.9,-7.3,-1.7,-7.0,-1.55,-6.9,-1.45,-6.2,-1.35,-7.7,-1.2,-8.2,-1.0,-8.9,-0.8,-9.3,-0.6,-9.1,-0.4,-9.25,-0.2,-9.6,0.0,-9.8,0.4,-9.9,0.8,-10.0,1.2,-10.3,1.6,-10.65],
    [-2.55,-9.3,-2.3,-9.2,-2.0,-8.9,-1.8,-8.0,-1.6,-8.4,-1.4,-8.9,-1.2,-9.0,-1.0,-9.2,-0.8,-9.0,-0.6,-9.2,-0.4,-9.7,-0.2,-9.8,0.2,-9.85,0.6,-9.95,1.0,-10.15,1.6,-10.7],
    [-2.55,-9.75,-2.3,-9.85,-2.0,-9.7,-1.8,-9.5,-1.65,-8.7,-1.5,-9.0,-1.35,-9.6,-1.2,-10.1,-1.0,-10.3,-0.8,-10.1,-0.6,-9.9,-0.4,-10.2,-0.2,-9.8,0.1,-9.9,0.4,-9.95,0.8,-10.1,1.2,-10.35,1.6,-10.75],
    [-2.55,-9.7,-2.3,-9.5,-2.1,-8.2,-1.9,-7.6,-1.7,-7.7,-1.5,-8.2,-1.3,-8.7,-1.1,-9.2,-0.9,-9.5,-0.7,-9.4,-0.5,-9.8,-0.3,-9.7,0.0,-9.8,0.3,-9.85,0.6,-9.95,1.0,-10.15,1.3,-10.4,1.6,-10.7]
  ]
};

const vOutLow = {
  mol: [
    [-2.55,2.1,-2.3,2.1,-2.0,2.05,-1.7,1.95,-1.4,2.0,-1.2,1.9],
    [-2.55,2.3,-2.2,2.35,-1.9,2.3,-1.6,2.2,-1.3,2.1,-1.0,2.0,-0.8,1.85,-0.6,1.9,-0.4,2.0,-0.2,1.85,0.0,2.0],
    [-2.55,2.55,-2.3,2.5,-2.0,2.45,-1.7,2.4,-1.4,2.3,-1.1,2.2,-0.9,2.1,-0.7,2.2,-0.5,2.05,-0.3,2.15,0.0,2.3,0.3,2.4,0.6,2.35,0.8,2.4],
    [-2.55,2.4,-2.4,2.45,-2.2,2.4,-2.0,2.45,-1.8,2.4,-1.6,2.45,-1.4,2.35,-1.2,2.25,-1.0,2.2,-0.8,2.1,-0.65,2.05,-0.5,1.9,-0.4,2.0,-0.2,2.15,0.0,2.35,0.2,2.3,0.4,2.35,0.6,2.4,0.8,2.45,0.95,2.55]
  ],
  cold: [
    [-2.55,2.3,-2.2,2.35,-1.9,2.3,-1.6,2.2,-1.3,2.05,-1.0,1.9,-0.7,1.75,-0.5,1.6,-0.3,1.55],
    [-2.55,2.35,-2.3,2.4,-2.0,2.5,-1.7,2.45,-1.4,2.3,-1.1,2.2,-0.8,2.1,-0.6,2.15,-0.4,2.3,-0.2,2.35,0.0,2.4,0.2,2.3,0.4,2.4],
    [-2.55,2.45,-2.3,2.5,-2.0,2.45,-1.7,2.55,-1.5,2.45,-1.3,2.35,-1.1,2.25,-0.9,2.2,-0.7,2.3,-0.5,2.25,-0.3,2.35,-0.1,2.45,0.1,2.4,0.3,2.35,0.5,2.45]
  ],
  warm: [
    [-2.55,2.2,-2.2,2.2,-1.9,2.3,-1.6,2.2,-1.3,2.1,-1.0,2.0,-0.8,1.85,-0.6,1.7,-0.4,1.5,-0.2,1.2,0.0,1.35],
    [-2.55,2.35,-2.3,2.4,-2.0,2.4,-1.7,2.35,-1.4,2.3,-1.1,2.3,-0.8,2.35,-0.5,2.3,-0.2,2.4,0.1,2.35],
    [-2.55,2.45,-2.3,2.5,-2.0,2.55,-1.7,2.45,-1.4,2.4,-1.1,2.35,-0.8,2.35,-0.5,2.4,-0.2,2.35,0.1,2.4,0.4,2.45,0.7,2.4,0.9,2.45]
  ],
  soft: [
    [-2.55,2.4,-2.2,2.45,-1.9,2.4,-1.6,2.3,-1.3,2.2,-1.0,2.1,-0.7,2.0,-0.4,1.85,-0.2,1.6,0.0,1.55,0.3,1.7,0.6,1.9,0.9,2.0],
    [-2.55,2.5,-2.3,2.55,-2.0,2.6,-1.7,2.55,-1.4,2.5,-1.1,2.55,-0.8,2.6,-0.5,2.5,-0.2,2.35,0.0,2.3,0.2,2.1,0.4,2.0,0.6,2.15,0.9,2.2,1.2,2.15,1.6,2.1],
    [-2.55,2.75,-2.3,2.7,-2.0,2.65,-1.7,2.6,-1.4,2.55,-1.1,2.6,-0.8,2.5,-0.5,2.55,-0.2,2.45,0.1,2.45,0.4,2.4,0.7,2.35,1.0,2.25,1.3,2.2,1.6,2.15]
  ],
  hard: [
    [-2.2,2.1,-1.8,2.0,-1.4,1.9,-1.0,1.8,-0.6,1.7,-0.3,1.5,0.0,1.2,0.2,1.25,0.5,1.5,0.8,1.7,1.2,1.7,1.6,1.65],
    [-2.55,2.3,-2.2,2.5,-1.9,2.8,-1.7,3.3,-1.55,4.2,-1.45,4.4,-1.35,4.0,-1.2,3.3,-1.0,2.9,-0.8,2.6,-0.5,2.4,-0.2,2.2,0.1,2.1,0.3,1.95,0.5,1.8,0.8,1.9,1.1,2.0,1.4,1.95,1.6,1.95],
    [-2.55,2.2,-2.4,2.5,-2.2,2.8,-2.0,3.1,-1.85,3.3,-1.75,4.6,-1.6,4.65,-1.45,4.55,-1.3,4.2,-1.2,3.4,-1.1,3.05,-0.9,2.9,-0.7,2.8,-0.5,2.7,-0.3,2.6,0.0,2.5,0.3,2.45,0.5,2.35,0.8,2.0,1.0,2.0,1.3,2.05,1.6,2.1],
    [-2.55,2.35,-2.3,2.45,-2.0,2.5,-1.8,2.6,-1.6,3.0,-1.45,2.8,-1.25,2.7,-1.0,2.6,-0.7,2.55,-0.4,2.45,-0.1,2.4,0.2,2.35,0.4,2.4,0.6,2.2,0.9,2.1,1.2,2.1,1.6,2.05],
    [-2.55,2.6,-2.4,2.8,-2.25,3.0,-2.1,3.2,-1.95,3.6,-1.85,4.5,-1.7,4.7,-1.55,4.65,-1.45,4.5,-1.35,4.1,-1.25,3.6,-1.1,3.0,-0.9,2.75,-0.6,2.65,-0.3,2.55,0.0,2.45,0.3,2.4,0.6,2.3,0.9,2.25,1.2,2.2,1.6,2.15],
    [-2.55,2.45,-2.45,2.75,-2.35,3.3,-2.25,4.2,-2.15,4.55,-2.05,4.45,-1.95,4.35,-1.85,3.5,-1.75,3.05,-1.6,3.1,-1.5,3.3,-1.4,3.0,-1.25,2.8,-1.0,2.7,-0.7,2.6,-0.4,2.5,-0.1,2.45,0.2,2.35,0.5,2.3,0.8,2.25,1.1,2.2,1.4,2.15,1.6,2.12]
  ]
};

const rhoInHigh = {
  mol: [
    [-1.1,-23.2,-0.95,-22.2,-0.85,-23.5,-0.75,-22.4,-0.65,-23.8,-0.55,-22.6,-0.45,-24.1,-0.35,-23.0,-0.25,-23.6,-0.1,-22.2,0.05,-23.3,0.15,-22.3],
    [-0.6,-23.1,-0.5,-22.7,-0.4,-24.0,-0.3,-22.8,-0.2,-23.9,-0.1,-23.4,0.0,-24.0],
    [-2.0,-26,-1.98,-22.3,-1.85,-22.1,-1.7,-21.7,-1.55,-21.8,-1.4,-21.9,-1.2,-21.85,-1.05,-22.3,-0.9,-22.7,-0.7,-23.1,-0.5,-23.3,-0.3,-23.2,-0.15,-22.95,0.0,-23.5,0.2,-23.9,0.4,-24.0,0.6,-24.1,0.7,-24.0]
  ],
  cold: [
    [-2.0,-22.3,-1.8,-22.6,-1.6,-22.0,-1.4,-22.3,-1.2,-22.5,-1.0,-22.2,-0.8,-22.1,-0.65,-21.6,-0.5,-22.5,-0.35,-22.0,-0.2,-22.6,0.0,-22.4,0.2,-22.8,0.3,-22.7],
    [-1.3,-23.0,-1.1,-22.7,-0.9,-22.9,-0.7,-22.5,-0.5,-22.8,-0.3,-23.2,-0.1,-22.9,0.1,-23.3,0.3,-23.0,0.5,-23.4,0.7,-23.2],
    [-2.55,-23.5,-2.4,-23.3,-2.2,-23.1,-2.0,-22.8,-1.85,-22.9,-1.7,-22.6,-1.5,-22.7,-1.3,-22.75,-1.1,-22.3,-0.9,-22.8,-0.75,-23.4,-0.6,-22.9,-0.45,-23.6,-0.3,-23.1,-0.1,-23.3,0.1,-23.1,0.3,-23.4],
    [-2.55,-21.6,-2.3,-21.8,-2.1,-22.0,-1.9,-22.2,-1.75,-21.7,-1.6,-22.3,-1.45,-21.9,-1.3,-21.6,-1.15,-22.1,-1.0,-21.55,-0.85,-22.0,-0.7,-22.3,-0.55,-22.5,-0.4,-22.4,-0.25,-22.7,-0.1,-22.5,0.05,-22.9,0.2,-23.1,0.35,-22.9,0.5,-23.3,0.6,-23.5,0.7,-23.1,0.75,-23.6]
  ],
  warm: [
    [-2.55,-23.8,-2.2,-23.9,-1.9,-24.0,-1.6,-24.2,-1.3,-24.3,-1.0,-24.4,-0.7,-24.0,-0.4,-24.6,-0.1,-24.3,0.2,-24.6],
    [-2.55,-22.8,-2.45,-23.4,-2.3,-23.2,-2.1,-23.6,-1.9,-23.4,-1.7,-23.9,-1.5,-23.5,-1.3,-24.0,-1.1,-23.7,-0.9,-24.1,-0.7,-23.9],
    [-2.55,-23.4,-2.3,-23.5,-2.0,-23.4,-1.7,-23.3,-1.4,-23.6,-1.1,-23.8,-0.8,-23.9,-0.5,-24.1,-0.2,-24.3,0.1,-24.2,0.4,-24.4,0.6,-24.6,0.75,-24.7],
    [-1.95,-22.2,-1.85,-22.7,-1.7,-22.4,-1.5,-22.8,-1.3,-23.4,-1.1,-23.2,-0.9,-23.8,-0.7,-23.5,-0.55,-24.2,-0.4,-23.7,-0.25,-24.1,-0.1,-23.9,0.1,-24.0,0.3,-24.6,0.5,-24.3,0.7,-24.4]
  ],
  soft: [
    [-2.55,-25.1,-2.3,-24.8,-2.1,-25.4,-1.9,-24.7,-1.7,-25.5,-1.5,-24.6,-1.3,-25.2,-1.1,-24.7,-0.9,-25.4,-0.7,-24.6,-0.5,-25.0,-0.3,-25.2,0.0,-25.2,0.4,-25.2,0.8,-25.25,1.2,-25.4,1.6,-25.9],
    [-2.55,-24.4,-2.35,-24.0,-2.15,-24.2,-1.95,-23.6,-1.8,-24.6,-1.6,-24.0,-1.4,-24.9,-1.25,-24.2,-1.1,-23.3,-0.95,-25.0,-0.8,-24.4,-0.65,-23.7,-0.5,-24.5,-0.35,-24.9,-0.15,-24.7,0.0,-25.1,0.2,-24.9,0.4,-25.1,0.7,-25.1,1.0,-25.2,1.3,-25.4,1.6,-25.9],
    [-2.55,-23.2,-2.35,-23.6,-2.15,-23.4,-1.95,-23.9,-1.75,-23.3,-1.55,-24.0,-1.35,-24.4,-1.15,-24.1,-0.95,-24.6,-0.75,-24.2,-0.55,-24.7,-0.35,-24.6,-0.1,-25.0,0.2,-25.1,0.5,-25.0,0.8,-25.15,1.1,-25.3,1.4,-25.5,1.6,-25.95],
    [-2.55,-22.7,-2.4,-23.0,-2.25,-22.2,-2.1,-22.6,-1.95,-23.2,-1.8,-23.6,-1.65,-22.9,-1.5,-23.5,-1.35,-24.1,-1.2,-23.4,-1.05,-24.2,-0.9,-23.5,-0.75,-24.4,-0.6,-23.6,-0.45,-24.5,-0.3,-24.8,-0.1,-25.0,0.1,-25.0,0.3,-24.9,0.5,-25.1,0.8,-25.2,1.1,-25.3,1.4,-25.5,1.6,-25.95]
  ],
  hard: [
    [-2.55,-25.7,-2.3,-25.5,-2.1,-25.9,-1.9,-25.4,-1.7,-26,-1.5,-25.6,-1.3,-25.3,-1.1,-25.8,-0.9,-25.5,-0.7,-25.7,-0.5,-25.4,-0.3,-25.6,0.0,-25.5,0.4,-25.45,0.8,-25.5,1.2,-25.6,1.6,-26],
    [-2.55,-25.2,-2.0,-25.25,-1.5,-25.3,-1.0,-25.3,-0.5,-25.3,0.0,-25.35,0.5,-25.4,1.0,-25.45,1.3,-25.6,1.6,-26],
    [-2.55,-23.6,-2.4,-24.2,-2.25,-23.4,-2.1,-24.6,-1.95,-24.0,-1.8,-25.2,-1.65,-24.3,-1.5,-25.5,-1.35,-24.6,-1.2,-25.0,-1.05,-25.6,-0.9,-24.8,-0.75,-25.5,-0.6,-24.9,-0.45,-25.4,-0.25,-25.0,0.0,-25.4,0.3,-25.3,0.6,-25.35,1.0,-25.5,1.3,-25.7,1.6,-26],
    [-2.55,-25.4,-2.3,-25.2,-2.0,-24.9,-1.8,-24.9,-1.6,-25.0,-1.4,-25.2,-1.2,-25.4,-1.0,-25.6,-0.8,-25.6,-0.6,-25.5,-0.4,-25.4,-0.2,-25.4,0.1,-25.35,0.4,-25.35,0.7,-25.4,1.0,-25.45,1.3,-25.6,1.6,-26],
    [-2.55,-22.3,-2.45,-22.6,-2.35,-23.2,-2.25,-24.0,-2.15,-24.8,-2.0,-24.9,-1.85,-23.6,-1.75,-24.5,-1.6,-24.2,-1.5,-25.1,-1.35,-24.0,-1.2,-25.3,-1.05,-24.2,-0.9,-25.4,-0.75,-24.6,-0.6,-25.2,-0.4,-24.9,-0.2,-25.3,0.0,-25.1,0.3,-25.2,0.6,-25.3,0.9,-25.4,1.2,-25.5,1.5,-25.8,1.6,-26]
  ]
};

const tInHigh = {
  mol: [
    [-2.1,1.5,-1.9,1.9,-1.7,1.4,-1.55,1.6,-1.4,1.0,-1.2,1.45,-1.0,1.3,-0.8,1.5,-0.6,1.6,-0.45,2.0,-0.3,1.7,-0.2,1.3],
    [-0.6,2.05,-0.4,1.8,-0.2,1.2,0.0,1.8,0.2,1.9],
    [-0.8,1.85,-0.6,1.3,-0.4,0.7,-0.2,0.2,0.0,0.0],
    [0.1,0.0,0.2,1.3,0.3,0.0],
    [-0.75,2.0,-0.65,0.0,-0.55,1.9,-0.45,0.0,-0.35,1.7,-0.25,0.0],
    [-2.15,0.0,-2.08,1.95,-1.9,2.05,-1.7,2.0,-1.5,2.1,-1.3,2.05,-1.1,2.0,-0.9,2.05,-0.75,1.85,-0.6,1.9,-0.45,1.3,-0.35,0.6,-0.25,0.9,-0.1,0.3,0.05,0.0]
  ],
  cold: [
    [-2.0,4.05,-1.8,3.9,-1.6,4.0,-1.4,3.85,-1.2,4.0,-1.0,3.75,-0.8,3.95,-0.6,3.85,-0.4,3.95,-0.2,3.8,0.0,4.0,0.3,4.05],
    [-2.55,4.05,-2.3,4.0,-2.0,4.05,-1.8,3.95,-1.6,4.0,-1.4,3.8,-1.2,3.95,-1.0,3.85,-0.8,3.9,-0.6,3.75,-0.4,3.9,-0.2,3.85,0.0,3.95,0.3,4.0,0.6,4.05],
    [-2.55,4.1,-2.2,4.08,-1.9,4.05,-1.6,4.05,-1.3,4.0,-1.0,4.02,-0.7,3.98,-0.4,4.0,-0.1,4.0,0.2,4.02,0.5,4.05,0.7,4.05]
  ],
  warm: [
    [-2.55,5.8,-2.3,5.6,-2.1,5.7,-1.9,5.5,-1.7,5.55,-1.5,5.3,-1.3,5.4,-1.1,4.7,-1.0,5.5,-0.8,5.6,-0.6,5.5,-0.4,5.4,-0.2,5.9,-0.1,5.0,0.1,5.3,0.3,5.5],
    [-2.55,5.3,-2.3,5.4,-2.05,5.2,-1.8,5.35,-1.55,5.3,-1.3,5.2,-1.05,5.4,-0.8,5.25,-0.55,5.35,-0.3,5.2,-0.05,5.3,0.2,5.45,0.45,5.3,0.6,5.5],
    [-2.55,5.7,-2.4,5.5,-2.25,5.6,-2.1,5.35,-1.95,5.5,-1.8,5.4,-1.6,5.5,-1.4,5.35,-1.2,5.45,-1.0,5.4,-0.8,5.35,-0.6,5.45,-0.4,5.3,-0.2,5.4,0.0,5.35,0.2,5.3,0.4,5.45,0.6,5.4],
    [-2.55,5.1,-2.45,5.5,-2.3,5.2,-2.15,5.4,-2.0,5.1,-1.85,5.45,-1.7,5.3,-1.55,5.6,-1.4,5.25,-1.25,5.45,-1.1,5.2,-0.95,5.5,-0.8,5.3,-0.65,5.4,-0.5,5.15,-0.35,5.45,-0.2,5.3,-0.05,5.4,0.1,5.25,0.25,5.5,0.4,5.3,0.55,5.45,0.7,5.7]
  ],
  soft: [
    [-2.55,6.6,-2.3,6.7,-2.0,6.6,-1.7,6.65,-1.4,6.6,-1.1,6.65,-0.8,6.6,-0.5,6.55,-0.2,6.65,0.2,6.7,0.6,6.72,1.0,6.75],
    [-2.55,6.2,-2.3,6.4,-2.0,6.45,-1.7,6.4,-1.4,6.45,-1.1,6.5,-0.8,6.5,-0.5,6.55,-0.2,6.5,0.1,6.6,0.4,6.65,0.8,6.7,1.2,6.72,1.6,6.75],
    [-2.55,6.65,-2.4,6.35,-2.2,6.5,-2.0,6.3,-1.8,6.45,-1.6,6.4,-1.4,6.55,-1.2,6.4,-1.0,6.5,-0.8,6.45,-0.6,6.55,-0.4,6.5,-0.2,6.6,0.1,6.6,0.4,6.65,0.7,6.7,1.0,6.7,1.3,6.72,1.6,6.75],
    [-2.55,6.5,-2.4,6.6,-2.25,6.4,-2.1,6.55,-1.9,6.45,-1.7,6.5,-1.5,6.45,-1.3,6.55,-1.1,6.5,-0.9,6.6,-0.7,6.55,-0.5,6.6,-0.3,6.55,-0.1,6.6,0.2,6.65,0.5,6.7,0.8,6.72,1.1,6.72,1.4,6.75,1.6,6.75]
  ],
  hard: [
    [-2.55,7.5,-2.2,7.4,-1.8,7.3,-1.4,7.25,-1.0,7.2,-0.6,7.1,-0.2,7.0,0.2,6.9],
    [-2.55,6.95,-2.0,7.1,-1.5,7.25,-1.0,7.3,-0.5,7.2,0.0,7.05,0.5,7.0,1.0,6.95,1.4,7.2,1.6,7.0],
    [-2.55,7.95,-2.3,8.05,-2.0,8.1,-1.7,8.35,-1.5,8.5,-1.3,8.35,-1.0,8.6,-0.8,8.8,-0.6,8.75,-0.4,8.5,-0.2,8.2,0.0,8.0,0.3,7.8,0.5,7.7,0.8,7.5,1.0,7.4,1.2,7.6,1.4,7.8,1.6,7.5],
    [-2.55,7.05,-2.3,7.1,-2.0,7.2,-1.7,7.3,-1.4,7.4,-1.1,7.5,-0.8,7.55,-0.5,7.45,-0.2,7.3,0.1,7.15,0.4,7.0,0.8,7.0,1.2,7.05,1.6,7.15],
    [-2.55,7.5,-2.3,7.6,-2.1,7.8,-1.9,8.0,-1.7,8.1,-1.5,7.9,-1.3,7.7,-1.1,7.8,-0.9,8.0,-0.7,7.9,-0.5,7.7,-0.3,7.45,-0.1,7.4,0.2,7.3,0.5,7.2,0.8,7.1,1.1,7.1,1.4,7.2,1.6,7.3],
    [-2.55,7.0,-2.4,7.2,-2.25,7.9,-2.1,8.6,-1.95,8.95,-1.8,8.9,-1.6,8.6,-1.4,8.4,-1.25,8.2,-1.1,8.3,-0.9,8.35,-0.75,8.1,-0.6,7.9,-0.45,7.85,-0.3,7.7,-0.1,7.5,0.1,7.3,0.3,7.25,0.6,7.15,0.9,7.05,1.2,7.0,1.4,7.05,1.6,7.1]
  ]
};

const pInHigh = {
  mol: [
    [-0.6,-13.5,-0.5,-15.0,-0.4,-12.4,-0.3,-13.0,-0.2,-14.8,-0.1,-13.5,0.0,-12.8,0.2,-12.9,0.3,-13.6,0.4,-13.2],
    [-1.6,-12.2,-1.5,-13.2,-1.35,-12.5,-1.2,-12.6,-1.05,-12.9,-0.9,-13.5,-0.8,-15.0],
    [0.3,-14.0,0.4,-13.3,0.55,-14.4,0.65,-15.0],
    [-0.4,-15.0,-0.35,-12.0,-0.3,-14.5,-0.2,-12.1,-0.15,-15.0,-0.05,-12.2,0.05,-14.0,0.15,-12.4,0.25,-15.0],
    [-1.95,-15.0,-1.9,-12.5,-1.8,-11.8,-1.65,-11.7,-1.5,-12.0,-1.35,-12.3,-1.2,-12.5,-1.05,-12.8,-0.9,-13.0,-0.75,-13.4,-0.6,-13.7,-0.45,-14.0,-0.3,-14.2,-0.15,-14.5,0.0,-14.7,0.1,-15.0]
  ],
  cold: [
    [-2.55,-10.8,-2.3,-10.7,-2.05,-10.9,-1.8,-11.0,-1.55,-10.8,-1.3,-11.1,-1.05,-11.0,-0.8,-11.3,-0.55,-11.2,-0.3,-11.5],
    [-2.55,-11.2,-2.3,-11.1,-2.05,-11.0,-1.8,-10.9,-1.6,-10.7,-1.4,-10.2,-1.25,-9.9,-1.15,-10.6,-1.0,-10.9,-0.8,-11.1,-0.6,-11.0,-0.4,-11.3,-0.2,-11.2,0.0,-11.5,0.2,-11.4,0.4,-11.6],
    [-2.55,-10.4,-2.4,-10.9,-2.25,-10.5,-2.1,-11.0,-1.95,-10.7,-1.8,-10.9,-1.6,-10.6,-1.45,-10.9,-1.3,-10.5,-1.15,-11.1,-1.0,-10.8,-0.85,-11.3,-0.7,-11.0,-0.55,-11.4,-0.4,-11.1,-0.25,-11.5,-0.1,-11.3,0.05,-11.6,0.2,-11.4,0.35,-11.7,0.5,-11.5,0.6,-11.7]
  ],
  warm: [
    [-2.55,-10.5,-2.3,-10.3,-2.05,-10.6,-1.8,-10.4,-1.55,-10.7,-1.3,-10.5,-1.05,-10.8,-0.8,-10.6,-0.55,-10.9,-0.3,-10.7,-0.05,-11.0],
    [-2.55,-9.8,-2.35,-9.9,-2.15,-10.1,-1.95,-10.0,-1.75,-10.4,-1.55,-10.3,-1.35,-10.6,-1.15,-10.5,-0.95,-10.9,-0.75,-10.7,-0.55,-11.0,-0.35,-10.8,-0.15,-11.1,0.05,-10.9,0.25,-11.0],
    [-2.55,-9.4,-2.4,-9.7,-2.25,-9.5,-2.1,-10.0,-1.95,-9.8,-1.8,-10.3,-1.65,-10.0,-1.5,-10.5,-1.35,-10.2,-1.2,-10.6,-1.05,-10.3,-0.9,-10.7,-0.75,-10.4,-0.6,-10.8,-0.45,-10.5,-0.3,-10.9,-0.15,-10.6,0.0,-11.0,0.15,-10.7,0.3,-10.9,0.45,-11.1,0.6,-10.8]
  ],
  soft: [
    [-2.55,-9.0,-2.35,-9.4,-2.15,-9.1,-1.95,-9.6,-1.75,-9.3,-1.55,-9.8,-1.35,-9.5,-1.15,-10.0,-0.95,-9.6,-0.75,-9.9,-0.55,-9.7,-0.3,-9.9,0.0,-9.8,0.3,-9.9,0.6,-9.95,0.9,-10.0,1.2,-10.2,1.5,-10.5,1.6,-10.7],
    [-2.55,-8.2,-2.45,-7.7,-2.35,-8.8,-2.2,-9.2,-2.05,-9.5,-1.9,-9.8,-1.75,-9.6,-1.6,-10.0,-1.45,-9.7,-1.3,-10.1,-1.15,-9.8,-1.0,-10.2,-0.85,-9.9,-0.7,-10.1,-0.5,-10.0,-0.3,-9.9,0.0,-10.0,0.3,-9.95,0.6,-9.9,0.8,-9.7,1.0,-9.8,1.2,-10.1,1.4,-10.3,1.6,-10.7],
    [-2.55,-10.3,-2.4,-9.8,-2.25,-10.0,-2.1,-9.6,-1.95,-9.9,-1.8,-9.5,-1.65,-9.8,-1.5,-10.1,-1.35,-9.6,-1.2,-9.9,-1.05,-10.2,-0.9,-9.7,-0.75,-10.0,-0.6,-9.5,-0.45,-9.9,-0.3,-10.1,-0.1,-9.8,0.1,-10.0,0.3,-9.9,0.5,-10.0,0.7,-9.85,0.9,-10.0,1.1,-10.1,1.3,-10.3,1.5,-10.6,1.6,-10.9]
  ],
  hard: [
    [-2.55,-9.6,-2.2,-9.6,-1.8,-9.65,-1.4,-9.7,-1.0,-9.8,-0.6,-9.85,-0.2,-9.8,0.2,-9.85,0.6,-9.9,1.0,-10.0,1.3,-10.1,1.6,-10.4],
    [-2.55,-8.4,-2.3,-8.3,-2.0,-8.1,-1.8,-7.8,-1.6,-8.0,-1.4,-8.4,-1.2,-8.2,-1.0,-8.5,-0.8,-8.8,-0.6,-9.0,-0.4,-8.7,-0.2,-9.2,0.0,-9.4,0.3,-9.6,0.6,-9.8,0.9,-9.7,1.2,-10.0,1.4,-10.2,1.6,-10.5],
    [-2.55,-10.0,-2.2,-9.95,-1.8,-9.9,-1.4,-9.85,-1.0,-9.9,-0.6,-9.95,-0.2,-9.9,0.2,-9.95,0.6,-10.0,1.0,-10.05,1.3,-10.2,1.6,-10.6],
    [-2.55,-7.7,-2.4,-7.3,-2.25,-7.5,-2.1,-7.9,-1.95,-8.1,-1.8,-8.5,-1.6,-8.8,-1.4,-9.0,-1.2,-9.2,-1.05,-8.7,-0.9,-9.4,-0.75,-8.9,-0.6,-9.5,-0.45,-9.3,-0.3,-9.7,-0.1,-9.9,0.1,-10.1,0.4,-9.95,0.7,-10.0,1.0,-10.1,1.3,-10.3,1.6,-10.75],
    [-2.55,-7.3,-2.4,-7.5,-2.3,-8.1,-2.2,-7.8,-2.05,-7.55,-1.9,-7.65,-1.75,-8.0,-1.6,-8.5,-1.45,-8.6,-1.3,-8.8,-1.15,-8.9,-1.0,-9.3,-0.85,-9.1,-0.7,-9.6,-0.55,-9.2,-0.4,-9.7,-0.25,-9.45,-0.1,-9.8,0.1,-9.9,0.3,-9.7,0.5,-9.85,0.7,-10.0,0.9,-9.85,1.1,-10.0,1.3,-10.2,1.5,-10.6,1.6,-10.8]
  ]
};

const vInHigh = {
  mol: [
    [-2.55,2.35,-2.2,2.3,-1.9,2.2,-1.6,2.15,-1.3,2.0,-1.0,2.1,-0.7,1.9,-0.5,1.7,-0.3,1.9],
    [-2.55,2.4,-2.3,2.45,-2.05,2.3,-1.8,2.35,-1.55,2.2,-1.3,2.25,-1.05,2.1,-0.8,2.2,-0.6,1.95,-0.45,1.6,-0.3,2.0,-0.1,2.15,0.1,2.3],
    [-2.55,2.5,-2.4,2.55,-2.25,2.45,-2.1,2.5,-1.95,2.4,-1.8,2.45,-1.6,2.4,-1.45,2.5,-1.3,2.45,-1.15,2.55,-1.0,2.6,-0.85,2.75,-0.75,2.4,-0.6,2.3,-0.45,2.2,-0.3,2.1,-0.15,2.0,0.0,2.2,0.15,2.3,0.3,2.45,0.45,2.5]
  ],
  cold: [
    [-2.4,1.6,-2.3,1.4,-2.2,1.3,-2.05,1.25,-1.9,1.3],
    [-2.55,2.35,-2.3,2.4,-2.05,2.3,-1.8,2.45,-1.55,2.25,-1.3,2.1,-1.05,1.95,-0.8,2.1,-0.55,1.8,-0.3,2.0,-0.1,2.1,0.1,2.2],
    [-2.55,2.45,-2.35,2.5,-2.15,2.35,-1.95,2.45,-1.75,2.3,-1.55,2.4,-1.35,2.2,-1.15,2.35,-0.95,2.1,-0.75,2.25,-0.55,2.0,-0.35,2.2,-0.15,2.05,0.05,2.15,0.25,2.1,0.45,2.25]
  ],
  warm: [
    [-2.55,2.2,-2.2,2.3,-1.9,2.4,-1.6,2.5,-1.3,2.3,-1.0,2.2,-0.7,2.1,-0.4,2.0],
    [-2.55,2.3,-2.3,2.35,-2.05,2.25,-1.8,2.3,-1.55,2.2,-1.3,2.25,-1.05,2.1,-0.8,2.2,-0.55,2.05,-0.3,2.15,-0.05,2.1],
    [-2.55,2.4,-2.35,2.45,-2.15,2.3,-1.95,2.4,-1.75,2.25,-1.55,2.35,-1.4,2.2,-1.25,2.9,-1.1,3.3,-1.0,2.8,-0.9,2.1,-0.75,1.9,-0.6,2.2,-0.45,2.0,-0.3,2.15,-0.15,2.0,0.0,2.1,0.2,2.2]
  ],
  soft: [
    [-2.3,2.0,-2.1,1.9,-1.9,2.0,-1.7,1.8,-1.5,1.9,-1.3,1.7,-1.1,1.8,-0.9,1.6,-0.7,1.5,-0.5,1.4,-0.3,1.3,-0.1,1.2],
    [-2.55,2.4,-2.35,2.5,-2.15,2.35,-1.95,2.55,-1.75,2.4,-1.55,2.6,-1.35,2.3,-1.15,2.5,-0.95,2.2,-0.75,2.4,-0.55,2.1,-0.35,2.3,-0.15,2.05,0.05,2.2,0.25,2.1,0.45,2.3,0.7,2.4,1.0,2.45,1.3,2.5,1.6,2.45],
    [-2.55,2.8,-2.4,2.65,-2.25,2.9,-2.1,2.6,-1.95,2.8,-1.8,2.5,-1.65,2.7,-1.5,2.45,-1.35,2.6,-1.2,2.4,-1.05,2.55,-0.9,2.35,-0.75,2.5,-0.6,2.3,-0.45,2.45,-0.3,2.2,-0.15,2.35,0.0,2.2,0.2,2.15,0.4,2.3,0.6,2.35,0.8,2.45,1.0,2.5,1.3,2.55,1.6,2.6]
  ],
  hard: [
    [-1.5,1.8,-1.2,1.7,-0.9,1.6,-0.6,1.5,-0.3,1.55,0.0,1.6],
    [-2.55,2.7,-2.3,2.8,-2.0,2.75,-1.7,2.8,-1.4,2.75,-1.1,2.6,-0.8,2.5,-0.5,2.4,-0.2,2.2,0.1,2.1,0.4,2.0,0.8,2.1,1.2,2.2,1.6,2.2],
    [-2.55,2.5,-2.3,2.65,-2.1,2.8,-1.9,3.0,-1.7,3.2,-1.5,3.5,-1.3,4.0,-1.2,4.5,-1.0,4.7,-0.8,4.5,-0.7,4.55,-0.55,3.8,-0.4,3.2,-0.2,2.7,0.0,2.5,0.3,2.4,0.6,2.5,0.9,2.55,1.2,2.5,1.6,2.45],
    [-2.55,2.55,-2.3,2.6,-2.1,2.75,-1.9,2.9,-1.7,2.8,-1.5,2.95,-1.3,3.2,-1.1,3.1,-1.0,3.6,-0.9,3.4,-0.8,3.2,-0.6,3.0,-0.4,2.7,-0.2,2.5,0.0,2.35,0.2,2.2,0.4,2.35,0.7,2.5,1.0,2.5,1.3,2.45,1.6,2.45],
    [-2.55,2.7,-2.4,2.6,-2.3,2.7,-2.2,3.0,-2.1,3.6,-2.0,3.0,-1.9,4.3,-1.8,3.8,-1.7,4.7,-1.55,4.2,-1.45,4.8,-1.3,4.7,-1.15,4.1,-1.0,3.6,-0.85,3.3,-0.7,3.0,-0.5,2.6,-0.3,2.5,0.0,2.4,0.3,2.3,0.5,2.4,0.7,2.5,1.0,2.55,1.3,2.5,1.6,2.55],
    [-2.55,2.6,-2.4,2.55,-2.25,2.9,-2.15,3.4,-2.05,4.3,-1.95,4.7,-1.8,4.85,-1.6,4.85,-1.4,4.85,-1.25,4.75,-1.1,4.5,-0.95,4.0,-0.8,3.6,-0.65,3.2,-0.5,2.9,-0.3,2.6,-0.1,2.45,0.1,2.35,0.3,2.3,0.5,2.5,0.7,2.55,0.9,2.6,1.2,2.55,1.4,2.6,1.6,2.55]
  ]
};

const rhoInLow = {
  mol: [
    [-2.55,-22.9,-2.35,-22.5,-2.15,-22.8,-1.95,-22.1,-1.75,-22.6,-1.55,-21.8,-1.4,-22.3,-1.2,-22.0,-1.0,-22.6],
    [-2.35,-20.15,-2.2,-20.6,-2.05,-20.9,-1.9,-20.8,-1.75,-21.0,-1.6,-20.7,-1.45,-21.2,-1.3,-20.95,-1.15,-21.3,-1.0,-21.1,-0.85,-21.5,-0.7,-21.4,-0.55,-21.8,-0.4,-22.0,-0.3,-22.3],
    [-1.5,-22.5,-1.3,-22.7,-1.1,-22.9,-0.9,-22.8,-0.7,-21.8,-0.6,-21.5,-0.5,-22.6,-0.35,-23.2,-0.2,-24.3,-0.05,-23.9,0.15,-24.1,0.3,-23.8,0.5,-23.4],
    [-2.2,-22.7,-2.05,-22.8,-1.9,-22.9,-1.75,-22.8,-1.6,-23.0,-1.45,-22.4,-1.3,-21.2,-1.2,-21.0,-1.05,-21.6,-0.95,-22.2,-0.85,-21.5,-0.75,-21.65,-0.65,-22.4,-0.55,-21.7,-0.45,-22.9,-0.35,-23.6,-0.2,-23.3,0.0,-23.1,0.15,-23.4,0.3,-23.3,0.45,-23.6]
  ],
  cold: [
    [-1.7,-24.4,-1.3,-24.9,-0.9,-25.4,-0.5,-26.0],
    [-2.55,-22.6,-2.3,-22.4,-2.05,-22.1,-1.8,-21.5,-1.55,-21.2,-1.3,-21.0,-1.05,-20.8,-0.8,-21.0,-0.6,-21.3,-0.4,-21.8,-0.2,-22.3,0.0,-22.7,0.2,-22.9],
    [-2.55,-22.3,-2.4,-22.0,-2.25,-22.4,-2.1,-21.8,-1.95,-22.2,-1.8,-21.7,-1.65,-22.3,-1.5,-21.9,-1.35,-22.4,-1.2,-22.0,-1.05,-22.5,-0.9,-22.1,-0.75,-22.6,-0.6,-22.9,-0.45,-23.2,-0.3,-23.0,-0.15,-23.4,0.0,-23.2,0.15,-23.5,0.3,-23.3,0.45,-23.8],
    [-2.55,-21.6,-2.4,-21.9,-2.25,-21.3,-2.1,-21.0,-1.95,-21.2,-1.8,-21.4,-1.65,-21.0,-1.5,-21.3,-1.35,-21.6,-1.2,-21.2,-1.05,-21.4,-0.9,-21.0,-0.75,-21.5,-0.6,-21.8,-0.45,-22.1,-0.3,-22.6,-0.15,-23.0,0.0,-22.8,0.15,-23.2,0.3,-23.6,0.45,-23.1,0.6,-23.9,0.65,-24.0]
  ],
  warm: [
    [-1.8,-24.0,-1.5,-24.5,-1.2,-25.0,-0.9,-25.5,-0.6,-26.0],
    [-2.55,-22.9,-2.3,-23.1,-2.05,-23.3,-1.8,-23.0,-1.55,-23.4,-1.3,-23.7,-1.05,-23.5,-0.8,-23.9,-0.55,-24.2,-0.3,-24.1],
    [-2.55,-24.0,-2.35,-23.6,-2.15,-23.9,-1.95,-23.4,-1.75,-23.7,-1.55,-23.2,-1.35,-23.6,-1.15,-23.4,-0.95,-23.8,-0.75,-23.5,-0.55,-23.9,-0.35,-24.0,-0.15,-24.1,0.05,-24.2,0.25,-24.3,0.45,-24.4,0.6,-24.6],
    [-2.55,-23.7,-2.4,-23.2,-2.25,-23.5,-2.1,-22.9,-1.95,-23.3,-1.8,-22.7,-1.65,-23.1,-1.5,-22.6,-1.35,-23.0,-1.2,-22.8,-1.05,-23.2,-0.9,-23.0,-0.75,-23.4,-0.6,-23.3,-0.45,-23.6,-0.3,-23.9,-0.1,-24.0,0.1,-24.1,0.3,-24.2,0.5,-24.35,0.65,-24.5]
  ],
  soft: [
    [-2.55,-25.0,-2.3,-24.8,-2.05,-25.2,-1.8,-24.9,-1.55,-25.4,-1.3,-25.8,-1.1,-25.3,-0.9,-24.6,-0.7,-24.9,-0.5,-24.6,-0.3,-24.8,0.0,-24.9,0.3,-25.0,0.6,-25.1,0.9,-25.2,1.2,-25.4,1.6,-25.8],
    [-2.55,-24.2,-2.35,-24.6,-2.15,-24.3,-1.95,-25.0,-1.75,-24.7,-1.55,-25.3,-1.4,-26.0],
    [-2.55,-24.5,-2.4,-24.0,-2.25,-24.4,-2.1,-23.8,-1.95,-24.3,-1.8,-23.6,-1.65,-24.2,-1.5,-23.9,-1.35,-24.6,-1.2,-24.1,-1.05,-24.9,-0.9,-24.3,-0.75,-23.5,-0.6,-24.4,-0.45,-24.8,-0.3,-24.6,-0.1,-24.8,0.1,-24.9,0.4,-25.0,0.7,-25.1,1.0,-25.2,1.3,-25.45,1.6,-25.9],
    [-2.55,-23.3,-2.4,-22.8,-2.25,-22.5,-2.1,-23.0,-1.95,-22.7,-1.8,-23.3,-1.65,-22.9,-1.5,-23.5,-1.35,-23.1,-1.2,-23.7,-1.05,-23.3,-0.9,-23.6,-0.8,-23.2,-0.7,-23.4,-0.55,-24.1,-0.4,-24.5,-0.2,-24.7,0.0,-24.8,0.2,-24.9,0.5,-25.0,0.8,-25.1,1.1,-25.3,1.4,-25.6,1.6,-25.9]
  ],
  hard: [
    [-2.55,-25.8,-2.3,-25.6,-2.0,-25.9,-1.7,-25.7,-1.4,-26.0],
    [-2.55,-25.5,-2.4,-25.2,-2.2,-25.6,-2.0,-25.0,-1.8,-25.5,-1.6,-25.1,-1.4,-25.7,-1.2,-25.3,-1.0,-25.9,-0.8,-25.4,-0.6,-25.8,-0.4,-25.4,-0.2,-25.7,0.0,-25.5,0.3,-25.6,0.6,-25.5,0.9,-25.4,1.2,-25.55,1.6,-25.9],
    [-2.55,-23.8,-2.4,-24.3,-2.25,-23.9,-2.1,-24.5,-1.95,-24.1,-1.8,-24.7,-1.6,-24.3,-1.4,-24.9,-1.2,-24.6,-1.0,-25.2,-0.8,-24.8,-0.6,-25.3,-0.4,-25.0,-0.2,-25.5,0.0,-25.3,0.3,-25.5,0.6,-25.4,1.0,-25.4,1.3,-25.6,1.6,-25.9],
    [-2.55,-24.6,-2.4,-24.9,-2.25,-24.4,-2.1,-24.7,-1.95,-24.3,-1.8,-24.8,-1.65,-24.2,-1.5,-24.6,-1.35,-24.4,-1.2,-24.9,-1.05,-24.5,-0.9,-25.0,-0.75,-24.3,-0.6,-24.8,-0.45,-25.2,-0.3,-25.5,-0.15,-25.3,0.0,-25.6,0.2,-25.4,0.4,-25.5,0.6,-25.3,0.8,-25.35,1.0,-25.3,1.2,-25.5,1.4,-25.7,1.6,-26],
    [-2.55,-25.0,-2.4,-24.6,-2.25,-24.9,-2.1,-24.2,-1.95,-24.0,-1.8,-23.5,-1.65,-23.9,-1.5,-23.6,-1.35,-24.0,-1.2,-23.6,-1.05,-24.2,-0.9,-24.6,-0.75,-24.0,-0.6,-23.1,-0.5,-24.0,-0.35,-25.0,-0.2,-25.4,-0.05,-25.9,0.1,-25.5,0.3,-25.7,0.5,-25.6,0.7,-25.35,0.9,-25.3,1.1,-25.4,1.3,-25.6,1.5,-25.9,1.6,-26]
  ]
};

const tInLow = {
  mol: [
    [-0.2,0.2,0.0,0.3,0.2,0.6,0.3,0.5,0.5,0.2],
    [-2.55,0.0,-2.4,1.6,-2.25,2.1,-2.1,1.9,-1.95,1.8,-1.8,1.9,-1.65,1.5,-1.5,1.8,-1.35,1.7,-1.2,1.95,-1.0,1.85,-0.85,1.7,-0.7,1.6,-0.6,1.9,-0.45,2.0,-0.3,2.1,-0.2,1.7,-0.1,0.8],
    [-0.7,2.0,-0.6,0.5,-0.5,2.0,-0.4,0.0,-0.3,1.2,-0.2,1.8,-0.1,1.4,0.1,1.5,0.3,1.4,0.5,1.3],
    [-2.2,1.2,-2.05,1.1,-1.9,1.4,-1.75,1.2,-1.6,1.5,-1.45,1.1,-1.3,0.9,-1.15,0.8,-1.0,0.6,-0.85,0.4,-0.75,1.6,-0.65,0.3,-0.55,1.2,-0.45,0.2,-0.35,0.0],
    [-2.2,1.5,-2.1,2.0,-1.9,2.05,-1.7,2.05,-1.5,2.05,-1.3,2.07,-1.1,2.1,-0.9,2.1,-0.75,1.9,-0.6,2.05,-0.45,1.6,-0.35,0.8,-0.25,1.0,-0.15,0.0]
  ],
  cold: [
    [-2.55,3.7,-2.35,3.95,-2.15,3.8,-1.95,4.0,-1.75,3.85,-1.55,3.75,-1.35,3.7,-1.15,3.6,-0.95,3.65,-0.75,3.7,-0.55,3.8,-0.35,3.85,-0.15,3.7,0.0,3.85],
    [-2.55,3.05,-2.45,3.5,-2.35,3.8,-2.2,3.9,-2.05,3.7,-1.9,3.85,-1.75,3.75,-1.6,3.9,-1.45,3.7,-1.3,3.8,-1.15,3.75,-1.0,3.85,-0.85,3.9,-0.7,3.85,-0.55,3.95,-0.4,3.9,-0.2,3.95,0.0,4.05,0.2,4.0],
    [-2.55,4.15,-2.4,4.05,-2.25,4.15,-2.1,4.0,-1.95,4.1,-1.8,4.05,-1.65,4.0,-1.5,4.1,-1.35,3.95,-1.2,4.05,-1.05,3.95,-0.9,4.0,-0.75,3.9,-0.6,4.0,-0.45,3.95,-0.3,4.05,-0.15,4.0,0.0,4.05,0.2,4.1,0.4,4.05,0.6,4.1,0.65,4.12]
  ],
  warm: [
    [-2.55,5.4,-2.4,4.7,-2.25,5.2,-2.1,5.4,-1.95,5.6,-1.8,5.5,-1.6,5.7,-1.4,5.6,-1.2,5.45,-1.0,5.5,-0.8,5.3,-0.6,5.2,-0.4,5.5,-0.2,5.4,0.0,5.3,0.2,5.6,0.4,5.7],
    [-2.55,5.2,-2.3,5.35,-2.1,5.15,-1.9,5.3,-1.7,5.6,-1.5,5.5,-1.3,5.3,-1.1,5.45,-0.9,5.2,-0.7,5.4,-0.5,5.5,-0.3,5.35,-0.1,5.5],
    [-2.55,5.5,-2.4,5.3,-2.25,5.45,-2.1,5.25,-1.95,5.5,-1.8,5.35,-1.65,5.2,-1.5,5.45,-1.35,5.3,-1.2,5.5,-1.05,5.4,-0.9,5.6,-0.75,5.35,-0.6,5.5,-0.45,5.3,-0.3,5.4,-0.15,5.25,0.0,5.45,0.2,5.35,0.4,5.5,0.55,5.2,0.65,4.85],
    [-2.55,5.95,-2.45,5.7,-2.35,5.3,-2.2,5.6,-2.05,5.2,-1.9,5.5,-1.75,5.4,-1.6,5.6,-1.45,5.3,-1.3,5.95,-1.15,5.6,-1.0,5.5,-0.85,5.3,-0.7,5.6,-0.55,5.3,-0.4,5.45,-0.25,5.6,-0.1,5.3,0.1,5.45,0.3,5.5,0.5,5.3,0.65,5.7]
  ],
  soft: [
    [-2.55,6.5,-2.3,6.55,-2.0,6.5,-1.7,6.55,-1.4,6.6,-1.1,6.5,-0.8,6.6,-0.5,6.55,-0.2,6.6,0.2,6.65,0.6,6.7,1.0,6.72],
    [-2.55,6.7,-2.4,6.65,-2.25,6.45,-2.1,6.35,-1.9,6.45,-1.7,6.4,-1.5,6.35,-1.3,6.45,-1.1,6.4,-0.9,6.5,-0.7,6.45,-0.5,6.5,-0.3,6.55,0.0,6.6,0.4,6.65,0.8,6.7,1.2,6.72,1.5,6.75],
    [-2.55,6.6,-2.4,6.5,-2.2,6.45,-2.0,6.5,-1.8,6.4,-1.6,6.5,-1.4,6.45,-1.2,6.5,-1.0,6.4,-0.8,6.45,-0.6,6.5,-0.4,6.45,-0.2,6.55,0.1,6.6,0.4,6.65,0.7,6.7,1.0,6.72,1.3,6.73,1.5,6.75],
    [-2.55,6.45,-2.45,6.6,-2.3,6.3,-2.15,6.4,-2.0,6.3,-1.85,6.45,-1.7,6.35,-1.55,6.5,-1.4,6.4,-1.25,6.45,-1.1,6.35,-0.95,6.5,-0.8,6.4,-0.65,6.45,-0.5,6.35,-0.35,6.5,-0.2,6.45,0.0,6.55,0.2,6.6,0.5,6.65,0.8,6.7,1.1,6.72,1.4,6.75,1.5,6.75]
  ],
  hard: [
    [-1.65,6.85,-1.0,6.87,-0.4,6.9,0.2,6.92,0.8,6.95,1.4,6.95,1.6,6.95],
    [-2.55,7.0,-2.2,7.15,-1.8,7.3,-1.4,7.35,-1.0,7.45,-0.6,7.5,-0.2,7.55,0.2,7.4,0.6,7.2,1.0,7.05,1.3,7.1,1.6,7.1],
    [-2.5,9.1,-2.35,9.0,-2.3,8.1,-2.15,7.9,-2.0,7.8,-1.85,7.6,-1.7,7.7,-1.5,7.85,-1.3,8.0,-1.1,8.1,-0.9,8.2,-0.7,8.35,-0.5,8.5,-0.3,8.55,-0.1,8.5,0.1,8.3,0.3,8.0,0.5,7.6,0.7,7.3,0.9,7.4,1.1,7.8,1.25,8.1,1.4,7.7,1.6,7.4],
    [-2.55,7.5,-2.4,7.6,-2.2,7.55,-2.0,7.7,-1.8,7.6,-1.6,7.45,-1.4,7.5,-1.2,7.6,-1.0,7.5,-0.8,7.6,-0.6,7.7,-0.4,7.9,-0.2,7.85,0.0,7.6,0.3,7.35,0.6,7.15,0.9,7.1,1.2,7.2,1.4,7.35,1.6,7.2],
    [-2.55,7.4,-2.4,7.5,-2.25,7.65,-2.1,8.1,-2.0,8.4,-1.9,8.0,-1.75,7.9,-1.6,7.6,-1.45,7.55,-1.3,7.8,-1.15,7.95,-1.0,8.05,-0.85,8.1,-0.7,7.9,-0.55,7.95,-0.4,8.1,-0.3,8.35,-0.2,8.1,0.0,7.8,0.2,7.6,0.4,7.45,0.6,7.3,0.8,7.2,1.0,7.1,1.2,7.25,1.4,7.5,1.5,7.7,1.6,7.3],
    [-2.55,7.2,-2.4,7.5,-2.25,7.7,-2.1,7.9,-1.95,8.0,-1.8,8.02,-1.65,8.0,-1.5,7.95,-1.35,7.9,-1.2,7.95,-1.05,7.85,-0.9,7.8,-0.75,7.9,-0.6,8.0,-0.45,7.95,-0.3,7.85,-0.15,7.7,0.0,7.6,0.2,7.5,0.4,7.4,0.6,7.2,0.8,7.05,1.0,7.05,1.2,7.15,1.35,7.25,1.5,7.4,1.6,7.3]
  ]
};

const pInLow = {
  mol: [
    [-1.4,-12.5,-1.3,-13.3,-1.15,-12.9,-1.0,-13.5,-0.85,-13.8],
    [-2.45,-15.0,-2.35,-13.5,-2.25,-12.4,-2.15,-11.3,-2.0,-12.0,-1.85,-12.5,-1.7,-12.8,-1.55,-12.3,-1.4,-12.0,-1.25,-11.7,-1.1,-11.4,-0.95,-11.8,-0.8,-12.2,-0.65,-12.0,-0.5,-12.4,-0.35,-12.8],
    [-0.3,-14.7,-0.2,-14.8,-0.1,-14.6,0.05,-15.0,0.2,-14.9,0.3,-14.4,0.45,-13.8],
    [-0.75,-12.9,-0.65,-14.5,-0.55,-13.0,-0.45,-14.0,-0.35,-15.0,-0.25,-14.5,-0.15,-15.0],
    [-2.15,-13.0,-2.0,-13.1,-1.85,-13.15,-1.7,-13.3,-1.55,-13.5,-1.4,-13.8,-1.25,-14.0,-1.1,-14.2,-0.95,-14.3,-0.85,-14.0,-0.75,-14.5,-0.6,-14.9,-0.5,-15.0],
    [-2.2,-12.5,-2.05,-12.6,-1.9,-12.6,-1.75,-12.55,-1.6,-12.7,-1.45,-12.6,-1.3,-12.55,-1.15,-12.4,-1.0,-12.1,-0.9,-11.8,-0.8,-12.7,-0.7,-12.3,-0.6,-13.2,-0.55,-14.7,-0.5,-12.4,-0.45,-13.5,-0.4,-15.0]
  ],
  cold: [
    [-1.2,-12.0,-0.9,-12.5,-0.6,-13.2,-0.3,-13.9,0.0,-14.8,0.05,-15.0],
    [-2.55,-11.4,-2.3,-11.2,-2.05,-11.0,-1.8,-11.3,-1.55,-11.1,-1.3,-11.5,-1.05,-11.3,-0.8,-11.7,-0.55,-12.0,-0.3,-12.5,-0.1,-13.0,0.1,-13.5,0.2,-14.0],
    [-2.55,-10.8,-2.4,-10.4,-2.25,-10.9,-2.1,-10.6,-1.95,-11.2,-1.8,-10.9,-1.65,-11.4,-1.5,-11.0,-1.35,-11.3,-1.2,-10.8,-1.05,-11.3,-0.9,-10.9,-0.75,-11.4,-0.6,-11.0,-0.45,-11.3,-0.3,-10.9,-0.15,-11.2,0.0,-11.0,0.2,-11.3],
    [-2.55,-10.2,-2.4,-10.5,-2.25,-10.0,-2.1,-10.4,-1.95,-10.1,-1.8,-10.6,-1.65,-10.2,-1.5,-10.7,-1.35,-10.3,-1.2,-10.8,-1.05,-10.4,-0.9,-10.9,-0.75,-10.5,-0.6,-11.0,-0.45,-10.6,-0.3,-10.9,-0.15,-10.7,0.0,-11.1,0.2,-10.9,0.4,-11.2,0.6,-11.0]
  ],
  warm: [
    [-2.55,-10.6,-2.3,-10.4,-2.05,-10.7,-1.8,-10.5,-1.55,-10.9,-1.3,-11.2,-1.05,-11.6,-0.8,-12.0,-0.55,-12.4,-0.3,-12.8,-0.1,-13.1],
    [-2.55,-10.0,-2.2,-10.1,-1.9,-9.9,-1.6,-10.2,-1.3,-10.0,-1.0,-10.3,-0.7,-10.5,-0.4,-10.8],
    [-2.55,-10.2,-2.4,-9.9,-2.25,-10.1,-2.1,-9.7,-1.95,-10.0,-1.8,-9.6,-1.65,-9.9,-1.5,-9.4,-1.35,-9.7,-1.2,-9.5,-1.05,-9.8,-0.9,-9.6,-0.75,-9.9,-0.6,-10.2,-0.45,-10.0,-0.3,-10.4,-0.15,-10.2,0.0,-10.5,0.2,-10.7,0.4,-10.8,0.6,-10.6,0.65,-11.3],
    [-2.55,-9.7,-2.4,-9.4,-2.25,-9.7,-2.1,-9.3,-1.95,-9.6,-1.8,-9.2,-1.65,-9.5,-1.5,-9.1,-1.35,-9.4,-1.2,-9.0,-1.05,-9.3,-0.9,-9.2,-0.75,-9.6,-0.6,-9.3,-0.45,-9.8,-0.3,-10.1,-0.15,-10.4,0.0,-10.3,0.2,-10.6,0.4,-10.5,0.6,-10.7]
  ],
  soft: [
    [-2.55,-9.5,-2.3,-9.6,-2.0,-9.4,-1.7,-9.2,-1.4,-9.4,-1.1,-9.6,-0.8,-9.4,-0.6,-9.0,-0.4,-8.8,-0.25,-9.1,-0.1,-10.3,0.0,-10.9,0.15,-10.5],
    [-2.55,-10.2,-2.3,-10.1,-2.0,-9.9,-1.7,-9.7,-1.4,-9.85,-1.1,-10.0,-0.8,-9.9,-0.5,-10.2,-0.3,-10.6,-0.15,-11.2,-0.05,-10.9],
    [-2.55,-10.0,-2.4,-9.8,-2.2,-9.9,-2.0,-9.6,-1.8,-9.4,-1.6,-9.2,-1.4,-9.0,-1.2,-9.1,-1.0,-8.9,-0.85,-9.3,-0.7,-9.5,-0.55,-9.2,-0.4,-9.6,-0.2,-9.9,0.0,-10.0,0.3,-10.1,0.6,-10.15,0.9,-10.2,1.2,-10.4,1.5,-10.7],
    [-2.55,-8.9,-2.4,-8.6,-2.25,-8.7,-2.1,-9.0,-1.95,-8.8,-1.8,-9.2,-1.65,-8.9,-1.5,-9.3,-1.35,-9.0,-1.2,-8.6,-1.05,-8.9,-0.9,-8.5,-0.75,-8.7,-0.6,-9.0,-0.45,-9.3,-0.3,-9.5,-0.15,-9.7,0.0,-9.8,0.2,-9.9,0.4,-10.0,0.6,-10.0,0.8,-10.1,1.0,-10.2,1.2,-10.35,1.4,-10.6,1.5,-10.7]
  ],
  hard: [
    [-2.55,-9.0,-2.3,-9.1,-2.0,-9.0,-1.7,-8.8,-1.4,-8.6,-1.1,-8.8,-0.8,-9.0,-0.5,-9.2,-0.2,-9.5,0.1,-9.7,0.4,-9.8,0.8,-9.95,1.2,-10.15,1.6,-10.4],
    [-2.55,-9.4,-2.4,-9.2,-2.2,-9.0,-2.0,-8.8,-1.8,-8.4,-1.6,-8.0,-1.4,-7.6,-1.2,-7.4,-1.0,-7.5,-0.8,-7.6,-0.6,-7.9,-0.4,-8.3,-0.2,-8.8,0.0,-9.3,0.2,-9.6,0.4,-9.8,0.7,-9.9,1.0,-10.0,1.3,-10.2,1.6,-10.5],
    [-2.55,-10.1,-2.3,-10.0,-2.1,-9.95,-1.9,-10.2,-1.7,-10.1,-1.5,-10.3,-1.3,-10.1,-1.1,-9.9,-0.9,-10.0,-0.7,-9.8,-0.5,-9.9,-0.3,-9.6,-0.15,-9.2,0.0,-9.6,0.2,-9.8,0.5,-9.95,0.8,-10.05,1.1,-10.2,1.4,-10.45,1.6,-10.75],
    [-2.55,-9.6,-2.4,-9.4,-2.25,-9.6,-2.1,-9.0,-1.95,-8.8,-1.8,-8.4,-1.65,-8.0,-1.5,-7.9,-1.35,-8.3,-1.2,-7.8,-1.05,-8.1,-0.9,-8.2,-0.75,-8.6,-0.6,-8.9,-0.45,-9.0,-0.3,-9.3,-0.15,-9.6,0.0,-9.7,0.2,-9.75,0.4,-9.8,0.6,-9.9,0.8,-10.0,1.0,-10.1,1.2,-10.3,1.4,-10.5,1.6,-10.75],
    [-2.55,-10.0,-2.4,-9.5,-2.25,-9.0,-2.1,-8.7,-1.95,-8.6,-1.8,-8.5,-1.65,-8.3,-1.5,-8.0,-1.4,-8.3,-1.25,-8.2,-1.1,-8.5,-0.95,-8.3,-0.8,-8.8,-0.65,-8.9,-0.5,-8.4,-0.35,-9.2,-0.2,-9.5,-0.05,-9.6,0.1,-9.7,0.3,-9.8,0.5,-9.9,0.7,-10.0,0.9,-10.05,1.1,-10.2,1.3,-10.4,1.5,-10.6,1.6,-10.7]
  ]
};

const vInLow = {
  mol: [
    [-2.55,2.25,-2.3,2.2,-2.05,2.3,-1.8,2.15,-1.55,2.25,-1.3,2.0,-1.05,2.15,-0.8,1.9,-0.6,2.1,-0.4,3.0,-0.3,4.0,-0.2,4.8,-0.1,4.9],
    [-2.55,2.3,-2.35,2.35,-2.15,2.2,-1.95,2.3,-1.75,2.15,-1.55,2.25,-1.35,2.1,-1.15,2.3,-0.95,2.05,-0.8,1.95,-0.65,2.2,-0.5,2.0,-0.35,2.3,-0.2,2.15,0.0,2.25],
    [-2.55,2.4,-2.4,2.45,-2.25,2.35,-2.1,2.5,-1.95,2.3,-1.8,2.4,-1.65,2.35,-1.5,2.45,-1.35,2.3,-1.2,2.4,-1.05,2.25,-0.9,2.3,-0.75,2.2,-0.6,2.4,-0.45,2.55,-0.3,2.75,-0.2,2.95,-0.1,2.7,0.0,2.5,0.15,2.35,0.3,2.5,0.45,2.4]
  ],
  cold: [
    [-2.55,2.2,-2.3,2.1,-2.05,2.2,-1.8,2.05,-1.55,2.15,-1.3,2.0,-1.05,2.1,-0.8,1.9,-0.55,2.0],
    [-2.55,2.5,-2.35,2.35,-2.15,2.5,-1.95,2.3,-1.75,2.45,-1.55,2.25,-1.35,2.4,-1.15,2.15,-0.95,2.35,-0.75,2.1,-0.55,2.3,-0.35,2.05,-0.15,2.2,0.05,2.1,0.25,2.15],
    [-2.55,2.75,-2.4,2.6,-2.25,2.45,-2.1,2.55,-1.95,2.35,-1.8,2.5,-1.65,2.3,-1.5,2.45,-1.35,2.2,-1.2,2.6,-1.1,2.8,-1.0,2.4,-0.85,2.2,-0.7,2.4,-0.55,2.1,-0.45,1.8,-0.35,2.3,-0.2,2.1,-0.05,2.3,0.1,2.15,0.25,2.3,0.4,2.2]
  ],
  warm: [
    [-2.55,2.2,-2.3,2.3,-2.0,2.15,-1.7,2.3,-1.4,2.1,-1.1,2.2,-0.8,2.1,-0.5,2.3,-0.3,2.6,-0.2,3.2,-0.1,3.9,0.0,4.5,0.1,4.85],
    [-2.55,2.3,-2.35,2.45,-2.15,2.25,-1.95,2.4,-1.75,2.2,-1.55,2.35,-1.35,2.15,-1.15,2.3,-0.95,2.1,-0.75,2.3,-0.55,2.05,-0.35,2.25,-0.15,2.1,0.05,2.3,0.25,2.2],
    [-2.55,2.45,-2.4,2.6,-2.25,2.4,-2.1,2.5,-1.95,2.3,-1.8,2.45,-1.65,2.2,-1.5,2.35,-1.4,1.9,-1.3,1.6,-1.2,2.2,-1.05,2.4,-0.9,2.2,-0.75,2.45,-0.6,2.3,-0.5,1.6,-0.45,1.1,-0.35,2.0,-0.2,2.3,0.0,2.2,0.2,2.35,0.4,2.25,0.6,2.4]
  ],
  soft: [
    [-2.55,2.4,-2.3,2.5,-2.05,2.35,-1.8,2.45,-1.55,2.3,-1.3,2.4,-1.05,2.2,-0.85,2.5,-0.7,3.0,-0.55,3.8,-0.45,4.5,-0.3,4.8,-0.2,4.9],
    [-2.55,2.6,-2.35,2.5,-2.15,2.6,-1.95,2.4,-1.75,2.5,-1.55,2.35,-1.35,2.45,-1.15,2.2,-0.95,2.4,-0.75,2.25,-0.55,2.4,-0.35,2.2,-0.15,2.1,0.05,2.0,0.3,1.95,0.6,2.05,0.9,2.2,1.2,2.3,1.5,2.4],
    [-2.55,2.3,-2.45,2.1,-2.3,2.45,-2.15,2.3,-2.0,2.5,-1.85,2.25,-1.7,2.4,-1.55,2.2,-1.4,2.45,-1.25,2.3,-1.1,2.55,-0.95,2.3,-0.8,2.45,-0.65,2.2,-0.5,2.4,-0.35,2.15,-0.2,2.3,0.0,2.1,0.2,2.0,0.4,2.05,0.6,2.15,0.8,2.25,1.0,2.3,1.3,2.4,1.6,2.45],
    [-2.55,2.5,-2.4,2.65,-2.25,2.4,-2.1,2.6,-1.95,2.35,-1.8,2.55,-1.65,2.4,-1.5,2.6,-1.35,2.3,-1.2,2.5,-1.05,2.35,-0.9,2.6,-0.75,2.4,-0.6,2.7,-0.45,2.5,-0.3,2.6,-0.15,2.35,0.0,2.45,0.2,2.3,0.4,2.25,0.6,2.3,0.8,2.35,1.0,2.4,1.2,2.45,1.4,2.5,1.6,2.5]
  ],
  hard: [
    [-2.55,2.5,-2.2,2.6,-1.8,2.7,-1.4,2.8,-1.0,2.85,-0.6,2.7,-0.3,2.6,0.0,2.45,0.3,2.3,0.6,2.2,0.9,2.1,1.2,2.0,1.4,1.9,1.6,1.95],
    [-2.55,2.9,-2.3,2.8,-2.0,2.85,-1.7,2.95,-1.4,2.8,-1.1,2.9,-0.8,2.85,-0.5,2.7,-0.2,2.5,0.0,2.3,0.1,1.6,0.2,1.15,0.5,1.3,0.8,1.55,1.1,1.75,1.4,1.8,1.6,1.75],
    [-2.55,3.65,-2.45,3.7,-2.35,3.85,-2.25,3.2,-2.1,3.0,-1.95,3.1,-1.8,3.2,-1.6,3.35,-1.45,3.8,-1.3,4.0,-1.1,4.3,-0.95,4.5,-0.8,4.7,-0.6,4.8,-0.45,4.75,-0.3,4.7,-0.2,4.6,-0.1,4.5,0.0,4.0,0.1,3.4,0.2,3.0,0.35,2.7,0.5,2.5,0.7,2.4,0.9,2.35,1.1,2.3,1.2,2.65,1.3,2.3,1.4,2.5,1.6,2.4],
    [-2.55,2.7,-2.4,2.75,-2.25,2.8,-2.1,2.9,-1.9,3.3,-1.75,3.1,-1.55,3.3,-1.35,3.0,-1.2,2.95,-1.05,3.2,-0.9,3.5,-0.75,3.85,-0.6,4.05,-0.45,4.1,-0.3,3.8,-0.15,3.3,0.0,2.9,0.2,2.6,0.4,2.45,0.6,2.35,0.8,2.3,1.0,2.35,1.2,2.5,1.4,2.55,1.6,2.45],
    [-2.55,2.3,-2.4,2.45,-2.25,2.7,-2.15,2.8,-2.0,2.95,-1.9,3.2,-1.8,3.4,-1.7,4.5,-1.6,4.8,-1.45,4.85,-1.3,4.8,-1.15,4.75,-1.0,4.65,-0.9,4.7,-0.8,4.3,-0.65,3.6,-0.5,3.2,-0.35,3.0,-0.2,2.8,0.0,2.6,0.2,2.5,0.4,2.5,0.6,2.4,0.8,2.3,1.0,2.3,1.2,2.35,1.4,2.45,1.6,2.45],
    [-2.55,2.35,-2.4,2.4,-2.25,2.6,-2.15,3.0,-2.05,3.6,-1.95,4.2,-1.85,4.65,-1.75,4.85,-1.6,4.8,-1.45,4.85,-1.3,4.85,-1.15,4.8,-1.0,4.6,-0.85,4.3,-0.75,4.0,-0.65,4.2,-0.5,3.8,-0.35,3.5,-0.2,3.3,-0.05,3.05,0.1,2.8,0.3,2.6,0.5,2.45,0.7,2.35,0.9,2.3,1.1,2.35,1.3,2.4,1.5,2.45,1.6,2.35]
  ]
};

// ---------------------------------------------------------------------------

const width = 1048;
const height = 1027;
const panelW = 186;
const panelH = 190;
const colX = [74, 334, 595, 855];
const rowY = [92, 301, 582, 791];

// labelX: distance from the panel frame to the baseline of the rotated y label
const quantities = [
  { domain: [1e-26, 1e-19], ticks: [-26, -24, -22, -20], label: [["ρ", true], [" [g cm"], ["−3", false, true], ["]"]], labelX: 51 },
  { domain: [1, 10 ** 9.7], ticks: [0, 2, 4, 6, 8], label: [["T", true], [" [K]"]], labelX: 34 },
  { domain: [1e-15, 10 ** -5.3], ticks: [-15, -13, -11, -9, -7], label: [["P", true], [" [dyne cm"], ["−2", false, true], ["]"]], labelX: 50 },
  { domain: [10, 1e5], ticks: [1, 2, 3, 4, 5], label: [["v", true], [" [km s"], ["−1", false, true], ["]"]], labelX: 36, minor: true },
];

const panels = [
  [rhoOutHigh, tOutHigh, pOutHigh, vOutHigh],
  [rhoOutLow, tOutLow, pOutLow, vOutLow],
  [rhoInHigh, tInHigh, pInHigh, vInHigh],
  [rhoInLow, tInLow, pInLow, vInLow],
];

const color = d3.scaleOrdinal()
  .domain(phaseKeys)
  .range(["#0000ff", "#40e0d0", "#9932cc", "#ffa500", "#ff0000"]);

const tickFont = "'DejaVu Sans', sans-serif";
const mathFont = "'Liberation Serif', 'Times New Roman', serif";

const svg = d3.select("#chart")
  .append("svg")
  .attr("width", width)
  .attr("height", height)
  .attr("viewBox", `0 0 ${width} ${height}`);

svg.append("text")
  .attr("x", width / 2 - 0.5)
  .attr("y", 19)
  .attr("text-anchor", "middle")
  .attr("font-family", "'Liberation Serif', 'Times New Roman', serif")
  .attr("font-size", 17.2)
  .text("V. Cammelli et al.: Chaotic cold accretion in multiscale AGN feedback simulations");

const x = d3.scaleLinear().domain([-2.84, 1.95]).range([0, panelW]);

function powText(sel, exp, size) {
  sel.append("tspan").text("10");
  sel.append("tspan")
    .attr("dy", -size * 0.5)
    .attr("font-size", size * 0.7)
    .text(exp < 0 ? "−" + (-exp) : String(exp));
}

function drawPanel(row, col) {
  const q = quantities[col];
  const data = panels[row][col];
  const g = svg.append("g").attr("transform", `translate(${colX[col]},${rowY[row]})`);
  const y = d3.scaleLog().domain(q.domain).range([panelH, 0]);
  const clipId = `clip-${row}-${col}`;

  g.append("clipPath").attr("id", clipId)
    .append("rect").attr("width", panelW).attr("height", panelH);

  // flatten every profile, older snapshots drawn first and fainter
  const lines = [];
  phaseKeys.forEach((key, pi) => {
    const set = data[key] || [];
    const alpha = d3.scaleLinear().domain([0, Math.max(1, set.length - 1)]).range([0.18, 1]);
    set.forEach((arr, i) => {
      const pts = d3.range(0, arr.length, 2).map(j => [arr[j], 10 ** arr[j + 1]]);
      lines.push({ key, pts, alpha: set.length === 1 ? 1 : alpha(i), order: pi });
    });
  });
  lines.sort((a, b) => a.alpha - b.alpha || a.order - b.order);

  const line = d3.line()
    .x(d => x(d[0]))
    .y(d => y(d[1]));

  g.append("g")
    .attr("clip-path", `url(#${clipId})`)
    .attr("fill", "none")
    .attr("stroke-width", 1.1)
    .attr("stroke-linejoin", "round")
    .selectAll("path")
    .data(lines)
    .join("path")
    .attr("stroke", d => color(d.key))
    .attr("stroke-opacity", d => d.alpha)
    .attr("d", d => line(d.pts));

  // ticks, pointing inwards on all four sides
  const majors = q.ticks.map(e => 10 ** e);
  const axisStyle = a => a.call(s => s.select(".domain").remove())
    .call(s => s.selectAll("line").attr("stroke", "#000").attr("stroke-width", 1.2));

  g.append("g").call(d3.axisLeft(y).tickValues(majors).tickSizeInner(-5).tickSizeOuter(0).tickFormat(""))
    .call(axisStyle);
  g.append("g").attr("transform", `translate(${panelW},0)`)
    .call(d3.axisRight(y).tickValues(majors).tickSizeInner(-5).tickSizeOuter(0).tickFormat(""))
    .call(axisStyle);
  if (q.minor) {
    const minors = y.ticks().filter(v => Math.abs(Math.log10(v) - Math.round(Math.log10(v))) > 1e-6);
    g.append("g").call(d3.axisLeft(y).tickValues(minors).tickSizeInner(-2.5).tickSizeOuter(0).tickFormat(""))
      .call(axisStyle);
    g.append("g").attr("transform", `translate(${panelW},0)`)
      .call(d3.axisRight(y).tickValues(minors).tickSizeInner(-2.5).tickSizeOuter(0).tickFormat(""))
      .call(axisStyle);
  }
  g.append("g").attr("transform", `translate(0,${panelH})`)
    .call(d3.axisBottom(x).tickValues(xTicks).tickSizeInner(-5).tickSizeOuter(0).tickFormat(""))
    .call(axisStyle);
  g.append("g")
    .call(d3.axisTop(x).tickValues(xTicks).tickSizeInner(-5).tickSizeOuter(0).tickFormat(""))
    .call(axisStyle);

  g.append("rect")
    .attr("width", panelW)
    .attr("height", panelH)
    .attr("fill", "none")
    .attr("stroke", "#000")
    .attr("stroke-width", 1.6);

  // y tick labels
  q.ticks.forEach(e => {
    const t = g.append("text")
      .attr("x", -6)
      .attr("y", y(10 ** e) + 5)
      .attr("text-anchor", "end")
      .attr("font-family", tickFont)
      .attr("font-size", 14.5);
    powText(t, e, 14.5);
  });

  // y axis label
  const lab = g.append("text")
    .attr("transform", `translate(${-q.labelX},${panelH / 2}) rotate(-90)`)
    .attr("text-anchor", "middle")
    .attr("font-family", mathFont)
    .attr("font-size", 18);
  q.label.forEach(([txt, italic, sup]) => {
    const ts = lab.append("tspan").text(txt);
    if (italic) ts.attr("font-style", "italic");
    if (sup) ts.attr("dy", -7).attr("font-size", 13);
    else if (lab.selectAll("tspan").size() > 1 && txt === "]") ts.attr("dy", 7);
  });

  // x tick labels and label on the lower row of each block
  if (row % 2 === 1) {
    g.selectAll(".xtl")
      .data(xTicks)
      .join("text")
      .attr("x", d => x(d))
      .attr("y", panelH + 19)
      .attr("text-anchor", "middle")
      .attr("font-family", tickFont)
      .attr("font-size", 14.5)
      .text(d => (d < 0 ? "−" + (-d) : d));

    const xl = g.append("text")
      .attr("x", panelW / 2)
      .attr("y", panelH + 40)
      .attr("text-anchor", "middle")
      .attr("font-family", mathFont)
      .attr("font-size", 18);
    xl.append("tspan").attr("font-style", "italic").text("log r");
    xl.append("tspan").text(" [kpc]");
  }

  if (col === 0) {
    g.append("text")
      .attr("x", 171)
      .attr("y", 28)
      .attr("text-anchor", "end")
      .attr("font-family", "'Liberation Sans', Arial, sans-serif")
      .attr("font-weight", "bold")
      .attr("font-size", 12)
      .attr("fill", "#555")
      .text(turbLabels[row]);
  }
}

d3.range(4).forEach(row => d3.range(4).forEach(col => drawPanel(row, col)));

// legends, one above each block
const legendX = [195, 347, 458, 581, 748];
[{ y: 53, title: regionLabels[0], fill: "#b3200c" }, { y: 543, title: regionLabels[1], fill: "#6a3cf2" }]
  .forEach(block => {
    svg.append("text")
      .attr("x", 31)
      .attr("y", block.y + 20)
      .attr("font-family", "'Liberation Sans', Arial, sans-serif")
      .attr("font-weight", "bold")
      .attr("font-size", 16.8)
      .attr("fill", block.fill)
      .text(block.title);

    const lg = svg.append("g").attr("transform", `translate(0,${block.y})`);
    lg.append("rect")
      .attr("x", 188)
      .attr("width", 708)
      .attr("height", 29)
      .attr("rx", 3)
      .attr("fill", "#fff")
      .attr("stroke", "#d6d6d6")
      .attr("stroke-width", 1);

    const items = lg.selectAll(".item")
      .data(phaseKeys)
      .join("g")
      .attr("transform", (d, i) => `translate(${legendX[i]},${14.5})`);
    items.append("line")
      .attr("x1", 0)
      .attr("x2", 32)
      .attr("stroke", d => color(d))
      .attr("stroke-width", 1.4);
    items.append("text")
      .attr("x", 44)
      .attr("y", 5.5)
      .attr("font-family", tickFont)
      .attr("font-size", 16)
      .text((d, i) => phaseNames[i]);
  });
</script>
</body>
</html>
